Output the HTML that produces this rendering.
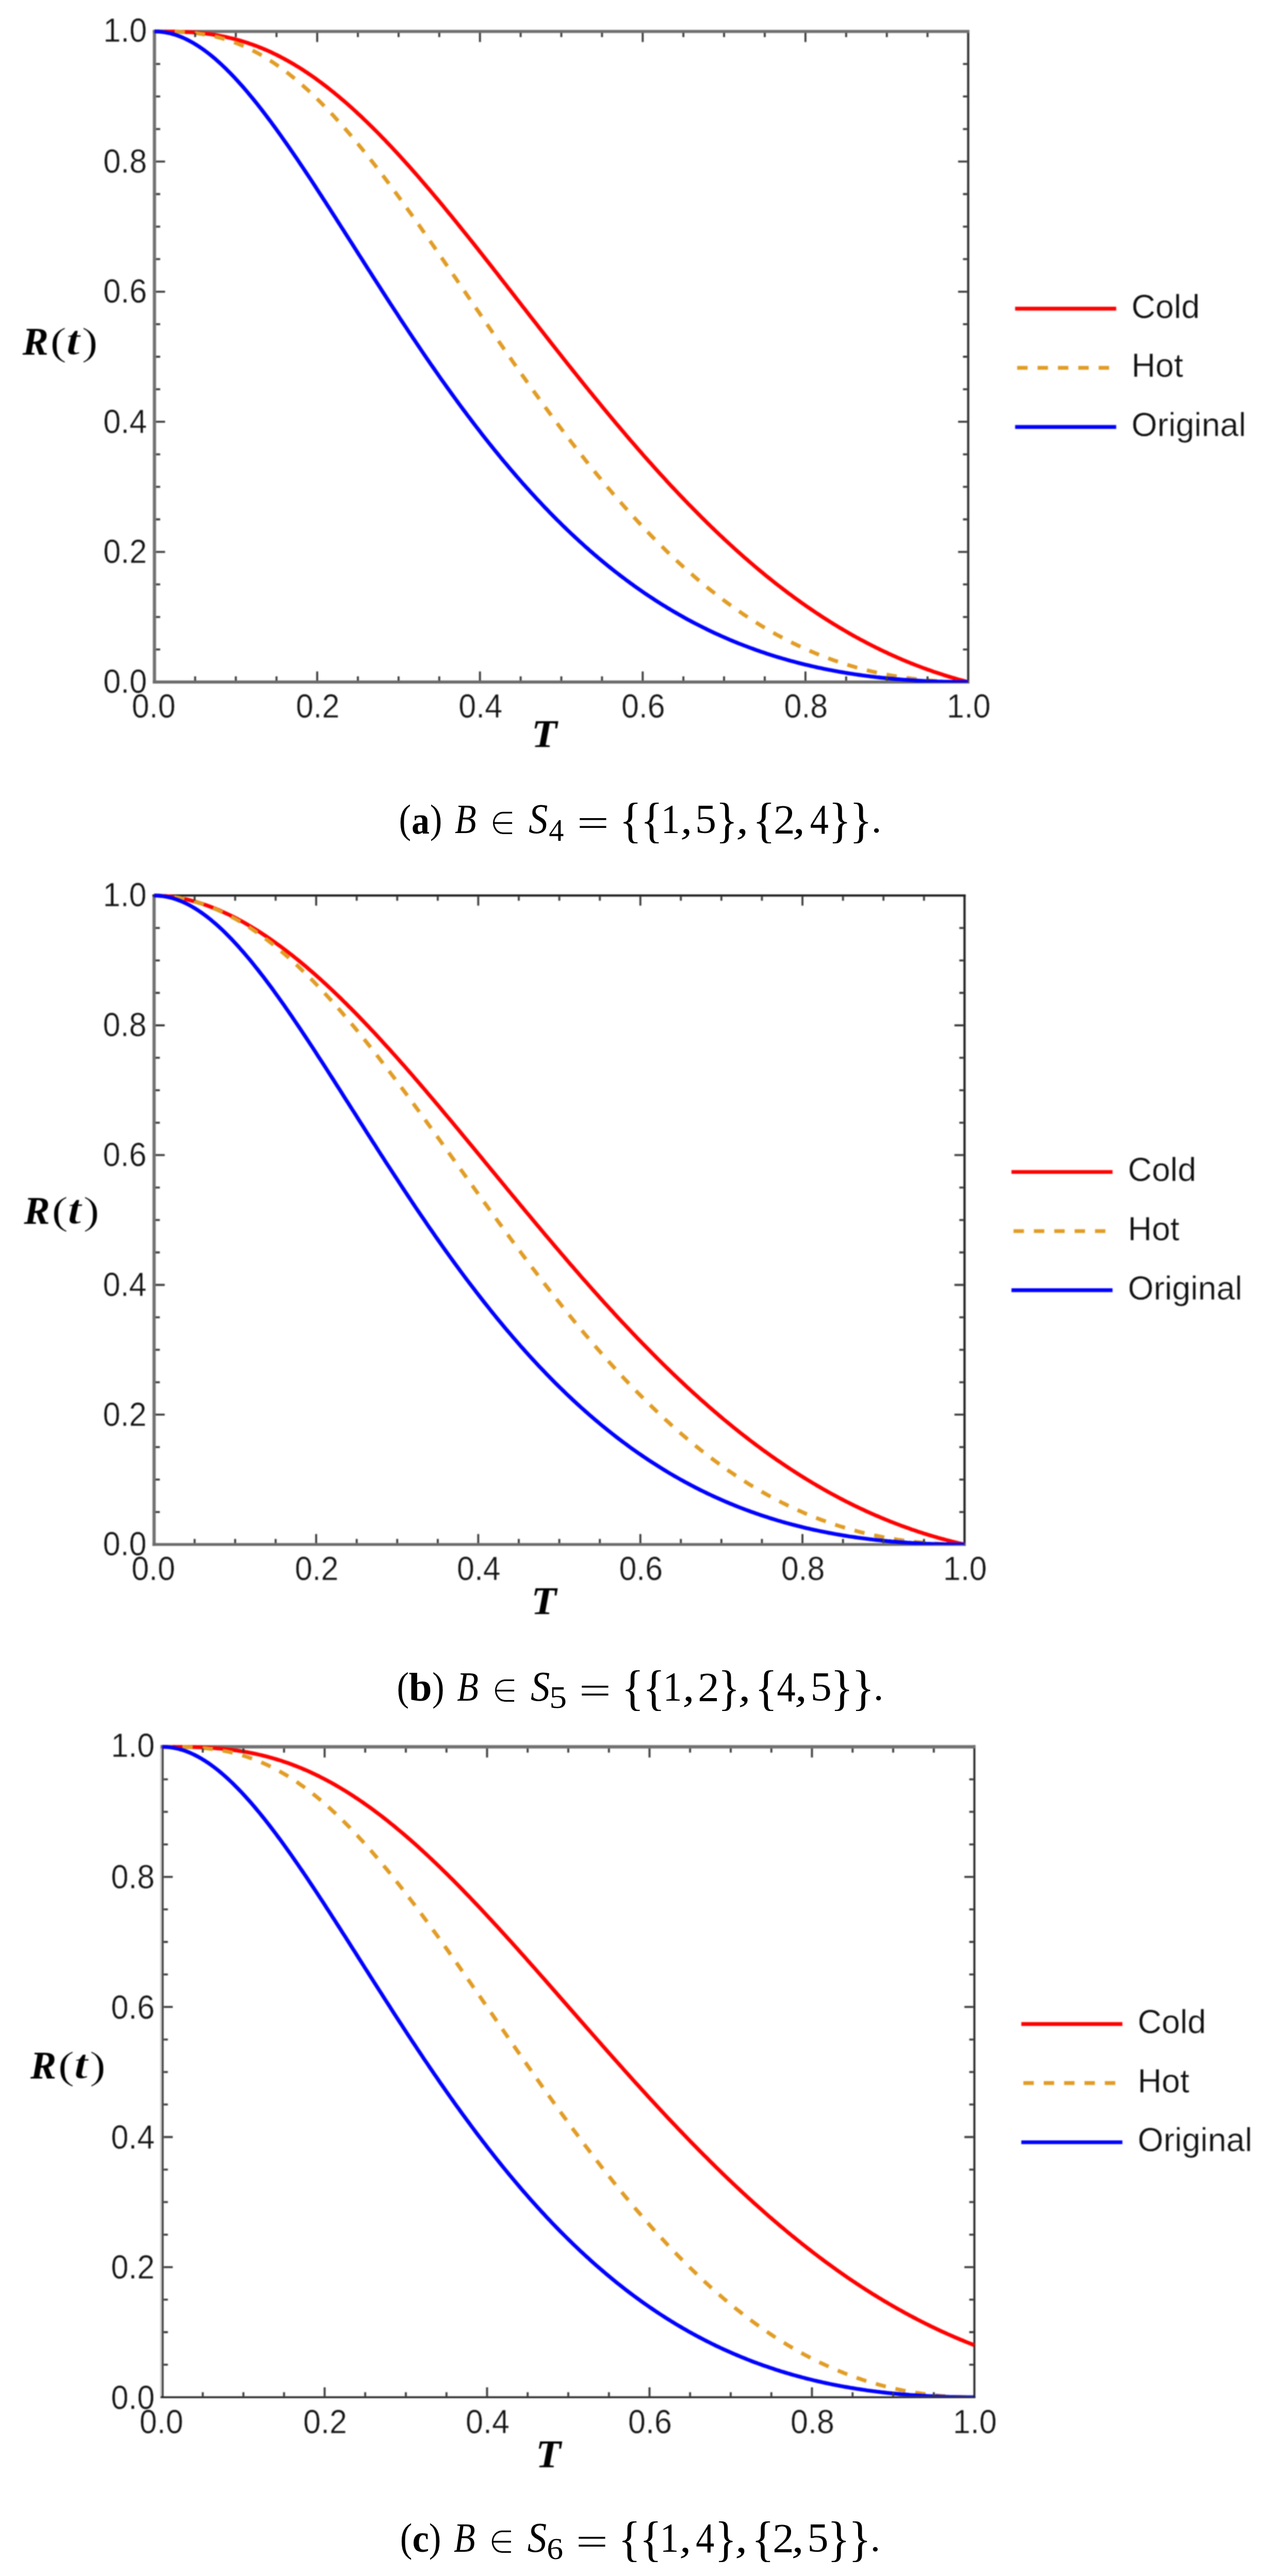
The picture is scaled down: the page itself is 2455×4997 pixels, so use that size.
<!DOCTYPE html>
<html lang="en"><head><meta charset="utf-8"><title>Reliability curves</title>
<style>
html,body{margin:0;padding:0;background:#fff;}
body{width:2455px;height:4997px;overflow:hidden;}
svg{display:block;position:absolute;left:0;top:0;}
text{white-space:pre;}
g.chart{filter:blur(1.1px);}
</style></head><body>
<svg width="2455" height="4997" viewBox="0 0 2455 4997">
<defs>
<clipPath id="clip-c1"><rect x="295.5" y="57.0" width="1583.0" height="1267.0"/></clipPath>
<clipPath id="clip-c2"><rect x="294.8" y="1733.2" width="1576.6" height="1263.6"/></clipPath>
<clipPath id="clip-c3"><rect x="310.5" y="3384.5" width="1580.0" height="1264.1"/></clipPath>
</defs>
<g class="chart" id="c1">
<line x1="299.5" y1="58.0" x2="299.5" y2="1325.9" stroke="#707070" stroke-width="6.2"/>
<line x1="1877.5" y1="58.0" x2="1877.5" y2="1325.9" stroke="#2e2e2e" stroke-width="4.2"/>
<line x1="296.4" y1="61.0" x2="1879.6" y2="61.0" stroke="#707070" stroke-width="6.0"/>
<line x1="296.4" y1="1323.0" x2="1879.6" y2="1323.0" stroke="#6c6c6c" stroke-width="5.8"/>
<g clip-path="url(#clip-c1)" fill="none" stroke-width="7.4" stroke-linejoin="round">
<path d="M299.5,61.0 L303.4,61.0 L307.4,61.0 L311.3,61.0 L315.3,61.0 L319.2,61.0 L323.2,61.1 L327.1,61.1 L331.1,61.2 L335.0,61.2 L338.9,61.3 L342.9,61.4 L346.8,61.5 L350.8,61.6 L354.7,61.8 L358.7,62.0 L362.6,62.2 L366.6,62.4 L370.5,62.6 L374.5,62.9 L378.4,63.2 L382.3,63.5 L386.3,63.9 L390.2,64.3 L394.2,64.7 L398.1,65.2 L402.1,65.7 L406.0,66.2 L410.0,66.7 L413.9,67.3 L417.9,68.0 L421.8,68.6 L425.7,69.3 L429.7,70.1 L433.6,70.9 L437.6,71.7 L441.5,72.6 L445.5,73.5 L449.4,74.4 L453.4,75.4 L457.3,76.4 L461.2,77.5 L465.2,78.6 L469.1,79.8 L473.1,81.0 L477.0,82.2 L481.0,83.5 L484.9,84.9 L488.9,86.2 L492.8,87.7 L496.8,89.1 L500.7,90.7 L504.6,92.2 L508.6,93.8 L512.5,95.5 L516.5,97.2 L520.4,98.9 L524.4,100.7 L528.3,102.6 L532.3,104.5 L536.2,106.4 L540.1,108.4 L544.1,110.4 L548.0,112.5 L552.0,114.6 L555.9,116.7 L559.9,119.0 L563.8,121.2 L567.8,123.5 L571.7,125.9 L575.7,128.3 L579.6,130.7 L583.5,133.2 L587.5,135.7 L591.4,138.3 L595.4,140.9 L599.3,143.6 L603.3,146.3 L607.2,149.0 L611.2,151.8 L615.1,154.7 L619.0,157.6 L623.0,160.5 L626.9,163.5 L630.9,166.5 L634.8,169.5 L638.8,172.6 L642.7,175.8 L646.7,178.9 L650.6,182.2 L654.5,185.4 L658.5,188.7 L662.4,192.1 L666.4,195.4 L670.3,198.8 L674.3,202.3 L678.2,205.8 L682.2,209.3 L686.1,212.9 L690.1,216.5 L694.0,220.2 L697.9,223.8 L701.9,227.5 L705.8,231.3 L709.8,235.1 L713.7,238.9 L717.7,242.8 L721.6,246.6 L725.6,250.6 L729.5,254.5 L733.5,258.5 L737.4,262.5 L741.3,266.6 L745.3,270.6 L749.2,274.8 L753.2,278.9 L757.1,283.1 L761.1,287.3 L765.0,291.5 L769.0,295.7 L772.9,300.0 L776.8,304.3 L780.8,308.7 L784.7,313.0 L788.7,317.4 L792.6,321.8 L796.6,326.3 L800.5,330.7 L804.5,335.2 L808.4,339.7 L812.4,344.2 L816.3,348.8 L820.2,353.4 L824.2,358.0 L828.1,362.6 L832.1,367.2 L836.0,371.9 L840.0,376.6 L843.9,381.3 L847.9,386.0 L851.8,390.7 L855.7,395.4 L859.7,400.2 L863.6,405.0 L867.6,409.8 L871.5,414.6 L875.5,419.4 L879.4,424.3 L883.4,429.1 L887.3,434.0 L891.2,438.9 L895.2,443.8 L899.1,448.7 L903.1,453.6 L907.0,458.5 L911.0,463.5 L914.9,468.4 L918.9,473.4 L922.8,478.4 L926.8,483.4 L930.7,488.4 L934.6,493.3 L938.6,498.4 L942.5,503.4 L946.5,508.4 L950.4,513.4 L954.4,518.4 L958.3,523.5 L962.3,528.5 L966.2,533.6 L970.1,538.6 L974.1,543.7 L978.0,548.7 L982.0,553.8 L985.9,558.9 L989.9,563.9 L993.8,569.0 L997.8,574.1 L1001.7,579.2 L1005.7,584.2 L1009.6,589.3 L1013.5,594.4 L1017.5,599.4 L1021.4,604.5 L1025.4,609.6 L1029.3,614.7 L1033.3,619.7 L1037.2,624.8 L1041.2,629.8 L1045.1,634.9 L1049.1,640.0 L1053.0,645.0 L1056.9,650.1 L1060.9,655.1 L1064.8,660.1 L1068.8,665.2 L1072.7,670.2 L1076.7,675.2 L1080.6,680.2 L1084.6,685.2 L1088.5,690.2 L1092.4,695.2 L1096.4,700.2 L1100.3,705.2 L1104.3,710.2 L1108.2,715.1 L1112.2,720.1 L1116.1,725.0 L1120.1,730.0 L1124.0,734.9 L1128.0,739.8 L1131.9,744.7 L1135.8,749.6 L1139.8,754.5 L1143.7,759.3 L1147.7,764.2 L1151.6,769.1 L1155.6,773.9 L1159.5,778.7 L1163.5,783.5 L1167.4,788.3 L1171.3,793.1 L1175.3,797.9 L1179.2,802.7 L1183.2,807.4 L1187.1,812.1 L1191.1,816.8 L1195.0,821.6 L1199.0,826.2 L1202.9,830.9 L1206.9,835.6 L1210.8,840.2 L1214.7,844.9 L1218.7,849.5 L1222.6,854.1 L1226.6,858.6 L1230.5,863.2 L1234.5,867.8 L1238.4,872.3 L1242.4,876.8 L1246.3,881.3 L1250.2,885.8 L1254.2,890.3 L1258.1,894.7 L1262.1,899.1 L1266.0,903.5 L1270.0,907.9 L1273.9,912.3 L1277.9,916.7 L1281.8,921.0 L1285.8,925.3 L1289.7,929.6 L1293.6,933.9 L1297.6,938.2 L1301.5,942.4 L1305.5,946.6 L1309.4,950.8 L1313.4,955.0 L1317.3,959.2 L1321.3,963.3 L1325.2,967.4 L1329.1,971.5 L1333.1,975.6 L1337.0,979.7 L1341.0,983.7 L1344.9,987.7 L1348.9,991.7 L1352.8,995.7 L1356.8,999.7 L1360.7,1003.6 L1364.7,1007.5 L1368.6,1011.4 L1372.5,1015.3 L1376.5,1019.1 L1380.4,1023.0 L1384.4,1026.8 L1388.3,1030.6 L1392.3,1034.3 L1396.2,1038.1 L1400.2,1041.8 L1404.1,1045.5 L1408.0,1049.1 L1412.0,1052.8 L1415.9,1056.4 L1419.9,1060.0 L1423.8,1063.6 L1427.8,1067.2 L1431.7,1070.7 L1435.7,1074.2 L1439.6,1077.7 L1443.5,1081.2 L1447.5,1084.6 L1451.4,1088.1 L1455.4,1091.5 L1459.3,1094.8 L1463.3,1098.2 L1467.2,1101.5 L1471.2,1104.8 L1475.1,1108.1 L1479.1,1111.4 L1483.0,1114.6 L1486.9,1117.8 L1490.9,1121.0 L1494.8,1124.2 L1498.8,1127.3 L1502.7,1130.5 L1506.7,1133.6 L1510.6,1136.6 L1514.6,1139.7 L1518.5,1142.7 L1522.5,1145.7 L1526.4,1148.7 L1530.3,1151.7 L1534.3,1154.6 L1538.2,1157.5 L1542.2,1160.4 L1546.1,1163.3 L1550.1,1166.1 L1554.0,1168.9 L1558.0,1171.7 L1561.9,1174.5 L1565.8,1177.2 L1569.8,1179.9 L1573.7,1182.6 L1577.7,1185.3 L1581.6,1188.0 L1585.6,1190.6 L1589.5,1193.2 L1593.5,1195.8 L1597.4,1198.3 L1601.4,1200.9 L1605.3,1203.4 L1609.2,1205.9 L1613.2,1208.3 L1617.1,1210.8 L1621.1,1213.2 L1625.0,1215.6 L1629.0,1218.0 L1632.9,1220.3 L1636.9,1222.6 L1640.8,1224.9 L1644.7,1227.2 L1648.7,1229.5 L1652.6,1231.7 L1656.6,1233.9 L1660.5,1236.1 L1664.5,1238.3 L1668.4,1240.4 L1672.4,1242.5 L1676.3,1244.6 L1680.2,1246.7 L1684.2,1248.8 L1688.1,1250.8 L1692.1,1252.8 L1696.0,1254.8 L1700.0,1256.8 L1703.9,1258.7 L1707.9,1260.6 L1711.8,1262.5 L1715.8,1264.4 L1719.7,1266.2 L1723.6,1268.1 L1727.6,1269.9 L1731.5,1271.7 L1735.5,1273.4 L1739.4,1275.2 L1743.4,1276.9 L1747.3,1278.6 L1751.3,1280.3 L1755.2,1281.9 L1759.2,1283.6 L1763.1,1285.2 L1767.0,1286.8 L1771.0,1288.3 L1774.9,1289.9 L1778.9,1291.4 L1782.8,1292.9 L1786.8,1294.4 L1790.7,1295.9 L1794.7,1297.3 L1798.6,1298.7 L1802.5,1300.1 L1806.5,1301.5 L1810.4,1302.9 L1814.4,1304.2 L1818.3,1305.5 L1822.3,1306.8 L1826.2,1308.1 L1830.2,1309.4 L1834.1,1310.6 L1838.0,1311.9 L1842.0,1313.1 L1845.9,1314.2 L1849.9,1315.4 L1853.8,1316.5 L1857.8,1317.7 L1861.7,1318.8 L1865.7,1319.9 L1869.6,1320.9 L1873.6,1322.0 L1877.5,1323.0" stroke="#ff0000"/>
<path d="M299.5,61.0 L303.4,61.0 L307.4,61.0 L311.3,61.0 L315.3,61.0 L319.2,61.1 L323.2,61.1 L327.1,61.2 L331.1,61.2 L335.0,61.3 L338.9,61.4 L342.9,61.6 L346.8,61.7 L350.8,61.9 L354.7,62.2 L358.7,62.4 L362.6,62.7 L366.6,63.0 L370.5,63.4 L374.5,63.8 L378.4,64.3 L382.3,64.7 L386.3,65.3 L390.2,65.8 L394.2,66.5 L398.1,67.1 L402.1,67.8 L406.0,68.6 L410.0,69.4 L413.9,70.3 L417.9,71.2 L421.8,72.2 L425.7,73.2 L429.7,74.3 L433.6,75.4 L437.6,76.6 L441.5,77.8 L445.5,79.1 L449.4,80.5 L453.4,81.9 L457.3,83.4 L461.2,84.9 L465.2,86.5 L469.1,88.2 L473.1,89.9 L477.0,91.7 L481.0,93.5 L484.9,95.4 L488.9,97.4 L492.8,99.4 L496.8,101.5 L500.7,103.6 L504.6,105.8 L508.6,108.1 L512.5,110.4 L516.5,112.8 L520.4,115.3 L524.4,117.8 L528.3,120.4 L532.3,123.0 L536.2,125.7 L540.1,128.5 L544.1,131.3 L548.0,134.2 L552.0,137.1 L555.9,140.1 L559.9,143.2 L563.8,146.3 L567.8,149.5 L571.7,152.7 L575.7,156.0 L579.6,159.3 L583.5,162.7 L587.5,166.2 L591.4,169.7 L595.4,173.3 L599.3,176.9 L603.3,180.6 L607.2,184.4 L611.2,188.1 L615.1,192.0 L619.0,195.9 L623.0,199.8 L626.9,203.8 L630.9,207.9 L634.8,212.0 L638.8,216.1 L642.7,220.3 L646.7,224.6 L650.6,228.9 L654.5,233.2 L658.5,237.6 L662.4,242.0 L666.4,246.5 L670.3,251.0 L674.3,255.6 L678.2,260.2 L682.2,264.8 L686.1,269.5 L690.1,274.2 L694.0,279.0 L697.9,283.8 L701.9,288.7 L705.8,293.5 L709.8,298.5 L713.7,303.4 L717.7,308.4 L721.6,313.4 L725.6,318.5 L729.5,323.6 L733.5,328.7 L737.4,333.8 L741.3,339.0 L745.3,344.2 L749.2,349.5 L753.2,354.7 L757.1,360.0 L761.1,365.3 L765.0,370.7 L769.0,376.1 L772.9,381.5 L776.8,386.9 L780.8,392.3 L784.7,397.8 L788.7,403.3 L792.6,408.8 L796.6,414.3 L800.5,419.9 L804.5,425.4 L808.4,431.0 L812.4,436.6 L816.3,442.2 L820.2,447.8 L824.2,453.5 L828.1,459.1 L832.1,464.8 L836.0,470.5 L840.0,476.2 L843.9,481.9 L847.9,487.6 L851.8,493.4 L855.7,499.1 L859.7,504.8 L863.6,510.6 L867.6,516.4 L871.5,522.1 L875.5,527.9 L879.4,533.7 L883.4,539.4 L887.3,545.2 L891.2,551.0 L895.2,556.8 L899.1,562.6 L903.1,568.4 L907.0,574.2 L911.0,580.0 L914.9,585.8 L918.9,591.6 L922.8,597.4 L926.8,603.2 L930.7,608.9 L934.6,614.7 L938.6,620.5 L942.5,626.3 L946.5,632.0 L950.4,637.8 L954.4,643.6 L958.3,649.3 L962.3,655.0 L966.2,660.8 L970.1,666.5 L974.1,672.2 L978.0,677.9 L982.0,683.6 L985.9,689.3 L989.9,695.0 L993.8,700.6 L997.8,706.3 L1001.7,711.9 L1005.7,717.5 L1009.6,723.2 L1013.5,728.8 L1017.5,734.3 L1021.4,739.9 L1025.4,745.5 L1029.3,751.0 L1033.3,756.5 L1037.2,762.0 L1041.2,767.5 L1045.1,773.0 L1049.1,778.4 L1053.0,783.9 L1056.9,789.3 L1060.9,794.7 L1064.8,800.1 L1068.8,805.4 L1072.7,810.8 L1076.7,816.1 L1080.6,821.4 L1084.6,826.7 L1088.5,831.9 L1092.4,837.2 L1096.4,842.4 L1100.3,847.6 L1104.3,852.7 L1108.2,857.9 L1112.2,863.0 L1116.1,868.1 L1120.1,873.2 L1124.0,878.3 L1128.0,883.3 L1131.9,888.3 L1135.8,893.3 L1139.8,898.2 L1143.7,903.2 L1147.7,908.1 L1151.6,912.9 L1155.6,917.8 L1159.5,922.6 L1163.5,927.4 L1167.4,932.2 L1171.3,936.9 L1175.3,941.7 L1179.2,946.4 L1183.2,951.0 L1187.1,955.7 L1191.1,960.3 L1195.0,964.9 L1199.0,969.4 L1202.9,973.9 L1206.9,978.4 L1210.8,982.9 L1214.7,987.3 L1218.7,991.8 L1222.6,996.1 L1226.6,1000.5 L1230.5,1004.8 L1234.5,1009.1 L1238.4,1013.4 L1242.4,1017.6 L1246.3,1021.8 L1250.2,1026.0 L1254.2,1030.2 L1258.1,1034.3 L1262.1,1038.4 L1266.0,1042.4 L1270.0,1046.4 L1273.9,1050.4 L1277.9,1054.4 L1281.8,1058.3 L1285.8,1062.2 L1289.7,1066.1 L1293.6,1070.0 L1297.6,1073.8 L1301.5,1077.5 L1305.5,1081.3 L1309.4,1085.0 L1313.4,1088.7 L1317.3,1092.4 L1321.3,1096.0 L1325.2,1099.6 L1329.1,1103.1 L1333.1,1106.7 L1337.0,1110.2 L1341.0,1113.6 L1344.9,1117.1 L1348.9,1120.5 L1352.8,1123.9 L1356.8,1127.2 L1360.7,1130.5 L1364.7,1133.8 L1368.6,1137.1 L1372.5,1140.3 L1376.5,1143.5 L1380.4,1146.6 L1384.4,1149.7 L1388.3,1152.8 L1392.3,1155.9 L1396.2,1158.9 L1400.2,1161.9 L1404.1,1164.9 L1408.0,1167.8 L1412.0,1170.8 L1415.9,1173.6 L1419.9,1176.5 L1423.8,1179.3 L1427.8,1182.1 L1431.7,1184.8 L1435.7,1187.5 L1439.6,1190.2 L1443.5,1192.9 L1447.5,1195.5 L1451.4,1198.1 L1455.4,1200.7 L1459.3,1203.2 L1463.3,1205.7 L1467.2,1208.2 L1471.2,1210.7 L1475.1,1213.1 L1479.1,1215.5 L1483.0,1217.8 L1486.9,1220.2 L1490.9,1222.5 L1494.8,1224.7 L1498.8,1227.0 L1502.7,1229.2 L1506.7,1231.4 L1510.6,1233.5 L1514.6,1235.6 L1518.5,1237.7 L1522.5,1239.8 L1526.4,1241.8 L1530.3,1243.8 L1534.3,1245.8 L1538.2,1247.8 L1542.2,1249.7 L1546.1,1251.6 L1550.1,1253.4 L1554.0,1255.3 L1558.0,1257.1 L1561.9,1258.9 L1565.8,1260.6 L1569.8,1262.3 L1573.7,1264.0 L1577.7,1265.7 L1581.6,1267.4 L1585.6,1269.0 L1589.5,1270.6 L1593.5,1272.1 L1597.4,1273.6 L1601.4,1275.2 L1605.3,1276.6 L1609.2,1278.1 L1613.2,1279.5 L1617.1,1280.9 L1621.1,1282.3 L1625.0,1283.6 L1629.0,1285.0 L1632.9,1286.3 L1636.9,1287.5 L1640.8,1288.8 L1644.7,1290.0 L1648.7,1291.2 L1652.6,1292.4 L1656.6,1293.5 L1660.5,1294.7 L1664.5,1295.8 L1668.4,1296.8 L1672.4,1297.9 L1676.3,1298.9 L1680.2,1299.9 L1684.2,1300.9 L1688.1,1301.8 L1692.1,1302.8 L1696.0,1303.7 L1700.0,1304.6 L1703.9,1305.4 L1707.9,1306.3 L1711.8,1307.1 L1715.8,1307.9 L1719.7,1308.6 L1723.6,1309.4 L1727.6,1310.1 L1731.5,1310.8 L1735.5,1311.5 L1739.4,1312.2 L1743.4,1312.8 L1747.3,1313.4 L1751.3,1314.0 L1755.2,1314.6 L1759.2,1315.2 L1763.1,1315.7 L1767.0,1316.2 L1771.0,1316.7 L1774.9,1317.2 L1778.9,1317.6 L1782.8,1318.1 L1786.8,1318.5 L1790.7,1318.9 L1794.7,1319.3 L1798.6,1319.6 L1802.5,1320.0 L1806.5,1320.3 L1810.4,1320.6 L1814.4,1320.9 L1818.3,1321.1 L1822.3,1321.4 L1826.2,1321.6 L1830.2,1321.8 L1834.1,1322.0 L1838.0,1322.2 L1842.0,1322.3 L1845.9,1322.5 L1849.9,1322.6 L1853.8,1322.7 L1857.8,1322.8 L1861.7,1322.9 L1865.7,1322.9 L1869.6,1323.0 L1873.6,1323.0 L1877.5,1323.0" stroke="#e19c24" stroke-dasharray="20 19.2"/>
<path d="M299.5,61.0 L303.4,61.1 L307.4,61.3 L311.3,61.6 L315.3,62.0 L319.2,62.6 L323.2,63.3 L327.1,64.1 L331.1,65.0 L335.0,66.1 L338.9,67.3 L342.9,68.6 L346.8,70.0 L350.8,71.5 L354.7,73.2 L358.7,75.0 L362.6,76.9 L366.6,78.9 L370.5,81.0 L374.5,83.2 L378.4,85.6 L382.3,88.0 L386.3,90.6 L390.2,93.3 L394.2,96.0 L398.1,98.9 L402.1,101.9 L406.0,104.9 L410.0,108.1 L413.9,111.4 L417.9,114.7 L421.8,118.2 L425.7,121.7 L429.7,125.4 L433.6,129.1 L437.6,132.9 L441.5,136.8 L445.5,140.8 L449.4,144.9 L453.4,149.0 L457.3,153.2 L461.2,157.5 L465.2,161.9 L469.1,166.3 L473.1,170.8 L477.0,175.4 L481.0,180.1 L484.9,184.8 L488.9,189.6 L492.8,194.4 L496.8,199.3 L500.7,204.3 L504.6,209.3 L508.6,214.4 L512.5,219.5 L516.5,224.7 L520.4,230.0 L524.4,235.2 L528.3,240.6 L532.3,246.0 L536.2,251.4 L540.1,256.9 L544.1,262.4 L548.0,268.0 L552.0,273.6 L555.9,279.2 L559.9,284.9 L563.8,290.6 L567.8,296.3 L571.7,302.1 L575.7,307.9 L579.6,313.7 L583.5,319.6 L587.5,325.5 L591.4,331.4 L595.4,337.4 L599.3,343.3 L603.3,349.3 L607.2,355.3 L611.2,361.4 L615.1,367.4 L619.0,373.5 L623.0,379.6 L626.9,385.7 L630.9,391.8 L634.8,397.9 L638.8,404.0 L642.7,410.2 L646.7,416.4 L650.6,422.5 L654.5,428.7 L658.5,434.9 L662.4,441.1 L666.4,447.3 L670.3,453.5 L674.3,459.7 L678.2,465.9 L682.2,472.1 L686.1,478.3 L690.1,484.5 L694.0,490.7 L697.9,496.9 L701.9,503.1 L705.8,509.3 L709.8,515.5 L713.7,521.7 L717.7,527.8 L721.6,534.0 L725.6,540.2 L729.5,546.3 L733.5,552.5 L737.4,558.6 L741.3,564.8 L745.3,570.9 L749.2,577.0 L753.2,583.1 L757.1,589.2 L761.1,595.2 L765.0,601.3 L769.0,607.3 L772.9,613.3 L776.8,619.4 L780.8,625.3 L784.7,631.3 L788.7,637.3 L792.6,643.2 L796.6,649.1 L800.5,655.1 L804.5,660.9 L808.4,666.8 L812.4,672.7 L816.3,678.5 L820.2,684.3 L824.2,690.1 L828.1,695.8 L832.1,701.6 L836.0,707.3 L840.0,713.0 L843.9,718.7 L847.9,724.3 L851.8,730.0 L855.7,735.6 L859.7,741.1 L863.6,746.7 L867.6,752.2 L871.5,757.7 L875.5,763.2 L879.4,768.7 L883.4,774.1 L887.3,779.5 L891.2,784.9 L895.2,790.2 L899.1,795.5 L903.1,800.8 L907.0,806.1 L911.0,811.3 L914.9,816.5 L918.9,821.7 L922.8,826.9 L926.8,832.0 L930.7,837.1 L934.6,842.2 L938.6,847.2 L942.5,852.2 L946.5,857.2 L950.4,862.2 L954.4,867.1 L958.3,872.0 L962.3,876.9 L966.2,881.7 L970.1,886.5 L974.1,891.3 L978.0,896.0 L982.0,900.7 L985.9,905.4 L989.9,910.1 L993.8,914.7 L997.8,919.3 L1001.7,923.9 L1005.7,928.4 L1009.6,932.9 L1013.5,937.4 L1017.5,941.8 L1021.4,946.2 L1025.4,950.6 L1029.3,955.0 L1033.3,959.3 L1037.2,963.6 L1041.2,967.9 L1045.1,972.1 L1049.1,976.3 L1053.0,980.5 L1056.9,984.6 L1060.9,988.7 L1064.8,992.8 L1068.8,996.8 L1072.7,1000.8 L1076.7,1004.8 L1080.6,1008.8 L1084.6,1012.7 L1088.5,1016.6 L1092.4,1020.5 L1096.4,1024.3 L1100.3,1028.1 L1104.3,1031.9 L1108.2,1035.6 L1112.2,1039.3 L1116.1,1043.0 L1120.1,1046.6 L1124.0,1050.3 L1128.0,1053.8 L1131.9,1057.4 L1135.8,1060.9 L1139.8,1064.4 L1143.7,1067.9 L1147.7,1071.4 L1151.6,1074.8 L1155.6,1078.1 L1159.5,1081.5 L1163.5,1084.8 L1167.4,1088.1 L1171.3,1091.4 L1175.3,1094.6 L1179.2,1097.8 L1183.2,1101.0 L1187.1,1104.2 L1191.1,1107.3 L1195.0,1110.4 L1199.0,1113.4 L1202.9,1116.5 L1206.9,1119.5 L1210.8,1122.4 L1214.7,1125.4 L1218.7,1128.3 L1222.6,1131.2 L1226.6,1134.1 L1230.5,1136.9 L1234.5,1139.7 L1238.4,1142.5 L1242.4,1145.3 L1246.3,1148.0 L1250.2,1150.7 L1254.2,1153.4 L1258.1,1156.0 L1262.1,1158.6 L1266.0,1161.2 L1270.0,1163.8 L1273.9,1166.3 L1277.9,1168.9 L1281.8,1171.3 L1285.8,1173.8 L1289.7,1176.2 L1293.6,1178.7 L1297.6,1181.0 L1301.5,1183.4 L1305.5,1185.7 L1309.4,1188.0 L1313.4,1190.3 L1317.3,1192.6 L1321.3,1194.8 L1325.2,1197.0 L1329.1,1199.2 L1333.1,1201.4 L1337.0,1203.5 L1341.0,1205.6 L1344.9,1207.7 L1348.9,1209.8 L1352.8,1211.8 L1356.8,1213.8 L1360.7,1215.8 L1364.7,1217.8 L1368.6,1219.7 L1372.5,1221.7 L1376.5,1223.6 L1380.4,1225.4 L1384.4,1227.3 L1388.3,1229.1 L1392.3,1230.9 L1396.2,1232.7 L1400.2,1234.5 L1404.1,1236.2 L1408.0,1237.9 L1412.0,1239.6 L1415.9,1241.3 L1419.9,1243.0 L1423.8,1244.6 L1427.8,1246.2 L1431.7,1247.8 L1435.7,1249.4 L1439.6,1250.9 L1443.5,1252.4 L1447.5,1253.9 L1451.4,1255.4 L1455.4,1256.9 L1459.3,1258.3 L1463.3,1259.8 L1467.2,1261.2 L1471.2,1262.6 L1475.1,1263.9 L1479.1,1265.3 L1483.0,1266.6 L1486.9,1267.9 L1490.9,1269.2 L1494.8,1270.5 L1498.8,1271.7 L1502.7,1273.0 L1506.7,1274.2 L1510.6,1275.4 L1514.6,1276.5 L1518.5,1277.7 L1522.5,1278.8 L1526.4,1280.0 L1530.3,1281.1 L1534.3,1282.2 L1538.2,1283.2 L1542.2,1284.3 L1546.1,1285.3 L1550.1,1286.3 L1554.0,1287.3 L1558.0,1288.3 L1561.9,1289.3 L1565.8,1290.2 L1569.8,1291.2 L1573.7,1292.1 L1577.7,1293.0 L1581.6,1293.9 L1585.6,1294.8 L1589.5,1295.6 L1593.5,1296.4 L1597.4,1297.3 L1601.4,1298.1 L1605.3,1298.9 L1609.2,1299.6 L1613.2,1300.4 L1617.1,1301.2 L1621.1,1301.9 L1625.0,1302.6 L1629.0,1303.3 L1632.9,1304.0 L1636.9,1304.7 L1640.8,1305.3 L1644.7,1306.0 L1648.7,1306.6 L1652.6,1307.2 L1656.6,1307.8 L1660.5,1308.4 L1664.5,1309.0 L1668.4,1309.5 L1672.4,1310.1 L1676.3,1310.6 L1680.2,1311.2 L1684.2,1311.7 L1688.1,1312.2 L1692.1,1312.6 L1696.0,1313.1 L1700.0,1313.6 L1703.9,1314.0 L1707.9,1314.5 L1711.8,1314.9 L1715.8,1315.3 L1719.7,1315.7 L1723.6,1316.1 L1727.6,1316.4 L1731.5,1316.8 L1735.5,1317.2 L1739.4,1317.5 L1743.4,1317.8 L1747.3,1318.1 L1751.3,1318.5 L1755.2,1318.7 L1759.2,1319.0 L1763.1,1319.3 L1767.0,1319.6 L1771.0,1319.8 L1774.9,1320.1 L1778.9,1320.3 L1782.8,1320.5 L1786.8,1320.7 L1790.7,1320.9 L1794.7,1321.1 L1798.6,1321.3 L1802.5,1321.5 L1806.5,1321.6 L1810.4,1321.8 L1814.4,1321.9 L1818.3,1322.1 L1822.3,1322.2 L1826.2,1322.3 L1830.2,1322.4 L1834.1,1322.5 L1838.0,1322.6 L1842.0,1322.7 L1845.9,1322.7 L1849.9,1322.8 L1853.8,1322.9 L1857.8,1322.9 L1861.7,1322.9 L1865.7,1323.0 L1869.6,1323.0 L1873.6,1323.0 L1877.5,1323.0" stroke="#0000ff"/>
</g>
<path d="M378.4,1320.1v-8M378.4,64.0v8M302.6,1259.9h8M1875.4,1259.9h-8M457.3,1320.1v-8M457.3,64.0v8M302.6,1196.8h8M1875.4,1196.8h-8M536.2,1320.1v-8M536.2,64.0v8M302.6,1133.7h8M1875.4,1133.7h-8M615.1,1320.1v-17.5M615.1,64.0v17.5M302.6,1070.6h17.5M1875.4,1070.6h-17.5M694.0,1320.1v-8M694.0,64.0v8M302.6,1007.5h8M1875.4,1007.5h-8M772.9,1320.1v-8M772.9,64.0v8M302.6,944.4h8M1875.4,944.4h-8M851.8,1320.1v-8M851.8,64.0v8M302.6,881.3h8M1875.4,881.3h-8M930.7,1320.1v-17.5M930.7,64.0v17.5M302.6,818.2h17.5M1875.4,818.2h-17.5M1009.6,1320.1v-8M1009.6,64.0v8M302.6,755.1h8M1875.4,755.1h-8M1088.5,1320.1v-8M1088.5,64.0v8M302.6,692.0h8M1875.4,692.0h-8M1167.4,1320.1v-8M1167.4,64.0v8M302.6,628.9h8M1875.4,628.9h-8M1246.3,1320.1v-17.5M1246.3,64.0v17.5M302.6,565.8h17.5M1875.4,565.8h-17.5M1325.2,1320.1v-8M1325.2,64.0v8M302.6,502.7h8M1875.4,502.7h-8M1404.1,1320.1v-8M1404.1,64.0v8M302.6,439.6h8M1875.4,439.6h-8M1483.0,1320.1v-8M1483.0,64.0v8M302.6,376.5h8M1875.4,376.5h-8M1561.9,1320.1v-17.5M1561.9,64.0v17.5M302.6,313.4h17.5M1875.4,313.4h-17.5M1640.8,1320.1v-8M1640.8,64.0v8M302.6,250.3h8M1875.4,250.3h-8M1719.7,1320.1v-8M1719.7,64.0v8M302.6,187.2h8M1875.4,187.2h-8M1798.6,1320.1v-8M1798.6,64.0v8M302.6,124.1h8M1875.4,124.1h-8" stroke="#3a3a3a" stroke-width="3.8" fill="none"/>
<g font-family="'Liberation Sans', Arial, sans-serif" font-size="61" fill="#141414" stroke="#fff" stroke-width="0.5">
<text transform="translate(285.0 1344.3) scale(1 1.06)" text-anchor="end">0.0</text>
<text transform="translate(298.0 1392.3) scale(1 1.06)" text-anchor="middle">0.0</text>
<text transform="translate(285.0 1091.9) scale(1 1.06)" text-anchor="end">0.2</text>
<text transform="translate(616.1 1392.3) scale(1 1.06)" text-anchor="middle">0.2</text>
<text transform="translate(285.0 839.5) scale(1 1.06)" text-anchor="end">0.4</text>
<text transform="translate(931.7 1392.3) scale(1 1.06)" text-anchor="middle">0.4</text>
<text transform="translate(285.0 587.1) scale(1 1.06)" text-anchor="end">0.6</text>
<text transform="translate(1247.3 1392.3) scale(1 1.06)" text-anchor="middle">0.6</text>
<text transform="translate(285.0 334.7) scale(1 1.06)" text-anchor="end">0.8</text>
<text transform="translate(1562.9 1392.3) scale(1 1.06)" text-anchor="middle">0.8</text>
<text transform="translate(285.0 80.8) scale(1 1.06)" text-anchor="end">1.0</text>
<text transform="translate(1878.5 1392.3) scale(1 1.06)" text-anchor="middle">1.0</text>
</g>
<text class="ylabel" fill="#000" font-family="'Liberation Serif', 'Times New Roman', serif"><tspan x="43.70" y="688.10" font-size="75.69" textLength="50.18" lengthAdjust="spacingAndGlyphs" font-weight="bold" font-style="italic">R</tspan><tspan x="97.14" y="688.27" font-size="76.33" textLength="32.26" lengthAdjust="spacingAndGlyphs" stroke="#fff" stroke-width="0.90">(</tspan><tspan x="127.96" y="687.78" font-size="81.75" textLength="27.27" lengthAdjust="spacingAndGlyphs" font-weight="bold" font-style="italic" stroke="#fff" stroke-width="1.50">t</tspan><tspan x="158.35" y="688.27" font-size="76.33" textLength="31.64" lengthAdjust="spacingAndGlyphs" stroke="#fff" stroke-width="0.90">)</tspan></text>
<g class="xlabel" fill="#000"><text transform="translate(1030.83 1448.60) scale(1.0110 0.9519)" font-family="'Liberation Serif', serif" font-weight="bold" font-style="italic" font-size="80">T</text></g>
<line x1="1968.5" y1="598.8" x2="2164.5" y2="598.8" stroke="#ff0000" stroke-width="7.4"/>
<text x="2194.0" y="616.7" font-family="'Liberation Sans', Arial, sans-serif" font-size="64.5" fill="#111" stroke="#fff" stroke-width="0.5">Cold</text>
<line x1="1972.5" y1="713.5" x2="2164.5" y2="713.5" stroke="#e19c24" stroke-width="7.4" stroke-dasharray="20.2 19.3"/>
<text x="2194.0" y="731.4" font-family="'Liberation Sans', Arial, sans-serif" font-size="64.5" fill="#111" stroke="#fff" stroke-width="0.5">Hot</text>
<line x1="1968.5" y1="828.2" x2="2164.5" y2="828.2" stroke="#0000ff" stroke-width="7.4"/>
<text x="2194.0" y="846.1" font-family="'Liberation Sans', Arial, sans-serif" font-size="64.5" fill="#111" stroke="#fff" stroke-width="0.5">Original</text>
</g>
<g class="chart" id="c2">
<line x1="298.8" y1="1735.1" x2="298.8" y2="2998.8" stroke="#707070" stroke-width="6.2"/>
<line x1="1870.4" y1="1735.1" x2="1870.4" y2="2998.8" stroke="#1e1e1e" stroke-width="4.2"/>
<line x1="295.7" y1="1737.2" x2="1872.5" y2="1737.2" stroke="#1e1e1e" stroke-width="4.2"/>
<line x1="295.7" y1="2996.0" x2="1872.5" y2="2996.0" stroke="#6a6a6a" stroke-width="5.5"/>
<g clip-path="url(#clip-c2)" fill="none" stroke-width="7.4" stroke-linejoin="round">
<path d="M298.8,1737.2 L302.7,1737.2 L306.7,1737.3 L310.6,1737.5 L314.5,1737.7 L318.4,1738.0 L322.4,1738.3 L326.3,1738.7 L330.2,1739.1 L334.2,1739.6 L338.1,1740.2 L342.0,1740.8 L345.9,1741.5 L349.9,1742.2 L353.8,1743.0 L357.7,1743.8 L361.7,1744.7 L365.6,1745.6 L369.5,1746.6 L373.5,1747.7 L377.4,1748.7 L381.3,1749.9 L385.2,1751.1 L389.2,1752.3 L393.1,1753.6 L397.0,1754.9 L401.0,1756.3 L404.9,1757.7 L408.8,1759.2 L412.7,1760.7 L416.7,1762.3 L420.6,1763.9 L424.5,1765.5 L428.5,1767.2 L432.4,1769.0 L436.3,1770.8 L440.2,1772.6 L444.2,1774.5 L448.1,1776.4 L452.0,1778.4 L456.0,1780.4 L459.9,1782.4 L463.8,1784.5 L467.7,1786.6 L471.7,1788.8 L475.6,1791.0 L479.5,1793.3 L483.5,1795.6 L487.4,1797.9 L491.3,1800.3 L495.2,1802.7 L499.2,1805.2 L503.1,1807.7 L507.0,1810.2 L511.0,1812.8 L514.9,1815.4 L518.8,1818.0 L522.8,1820.7 L526.7,1823.5 L530.6,1826.2 L534.5,1829.0 L538.5,1831.9 L542.4,1834.7 L546.3,1837.6 L550.3,1840.6 L554.2,1843.6 L558.1,1846.6 L562.0,1849.6 L566.0,1852.7 L569.9,1855.8 L573.8,1859.0 L577.8,1862.2 L581.7,1865.4 L585.6,1868.6 L589.5,1871.9 L593.5,1875.2 L597.4,1878.6 L601.3,1882.0 L605.3,1885.4 L609.2,1888.8 L613.1,1892.3 L617.0,1895.8 L621.0,1899.3 L624.9,1902.9 L628.8,1906.5 L632.8,1910.1 L636.7,1913.8 L640.6,1917.4 L644.6,1921.1 L648.5,1924.9 L652.4,1928.6 L656.3,1932.4 L660.3,1936.2 L664.2,1940.1 L668.1,1944.0 L672.1,1947.8 L676.0,1951.8 L679.9,1955.7 L683.8,1959.7 L687.8,1963.7 L691.7,1967.7 L695.6,1971.7 L699.6,1975.8 L703.5,1979.9 L707.4,1984.0 L711.3,1988.1 L715.3,1992.2 L719.2,1996.4 L723.1,2000.6 L727.1,2004.8 L731.0,2009.1 L734.9,2013.3 L738.8,2017.6 L742.8,2021.9 L746.7,2026.2 L750.6,2030.5 L754.6,2034.8 L758.5,2039.2 L762.4,2043.6 L766.4,2048.0 L770.3,2052.4 L774.2,2056.8 L778.1,2061.3 L782.1,2065.7 L786.0,2070.2 L789.9,2074.7 L793.9,2079.2 L797.8,2083.7 L801.7,2088.2 L805.6,2092.8 L809.6,2097.3 L813.5,2101.9 L817.4,2106.5 L821.4,2111.1 L825.3,2115.7 L829.2,2120.3 L833.1,2124.9 L837.1,2129.6 L841.0,2134.2 L844.9,2138.9 L848.9,2143.5 L852.8,2148.2 L856.7,2152.9 L860.6,2157.6 L864.6,2162.3 L868.5,2167.0 L872.4,2171.7 L876.4,2176.4 L880.3,2181.1 L884.2,2185.8 L888.2,2190.6 L892.1,2195.3 L896.0,2200.1 L899.9,2204.8 L903.9,2209.6 L907.8,2214.3 L911.7,2219.1 L915.7,2223.9 L919.6,2228.6 L923.5,2233.4 L927.4,2238.2 L931.4,2242.9 L935.3,2247.7 L939.2,2252.5 L943.2,2257.3 L947.1,2262.0 L951.0,2266.8 L954.9,2271.6 L958.9,2276.4 L962.8,2281.1 L966.7,2285.9 L970.7,2290.7 L974.6,2295.5 L978.5,2300.2 L982.4,2305.0 L986.4,2309.8 L990.3,2314.5 L994.2,2319.3 L998.2,2324.0 L1002.1,2328.8 L1006.0,2333.5 L1009.9,2338.3 L1013.9,2343.0 L1017.8,2347.8 L1021.7,2352.5 L1025.7,2357.2 L1029.6,2361.9 L1033.5,2366.6 L1037.5,2371.4 L1041.4,2376.1 L1045.3,2380.7 L1049.2,2385.4 L1053.2,2390.1 L1057.1,2394.8 L1061.0,2399.4 L1065.0,2404.1 L1068.9,2408.7 L1072.8,2413.4 L1076.7,2418.0 L1080.7,2422.6 L1084.6,2427.2 L1088.5,2431.8 L1092.5,2436.4 L1096.4,2441.0 L1100.3,2445.6 L1104.2,2450.2 L1108.2,2454.7 L1112.1,2459.2 L1116.0,2463.8 L1120.0,2468.3 L1123.9,2472.8 L1127.8,2477.3 L1131.7,2481.8 L1135.7,2486.2 L1139.6,2490.7 L1143.5,2495.1 L1147.5,2499.6 L1151.4,2504.0 L1155.3,2508.4 L1159.3,2512.8 L1163.2,2517.2 L1167.1,2521.5 L1171.0,2525.9 L1175.0,2530.2 L1178.9,2534.5 L1182.8,2538.9 L1186.8,2543.1 L1190.7,2547.4 L1194.6,2551.7 L1198.5,2555.9 L1202.5,2560.2 L1206.4,2564.4 L1210.3,2568.6 L1214.3,2572.8 L1218.2,2576.9 L1222.1,2581.1 L1226.0,2585.2 L1230.0,2589.4 L1233.9,2593.5 L1237.8,2597.6 L1241.8,2601.6 L1245.7,2605.7 L1249.6,2609.7 L1253.5,2613.7 L1257.5,2617.7 L1261.4,2621.7 L1265.3,2625.7 L1269.3,2629.6 L1273.2,2633.6 L1277.1,2637.5 L1281.1,2641.4 L1285.0,2645.3 L1288.9,2649.1 L1292.8,2653.0 L1296.8,2656.8 L1300.7,2660.6 L1304.6,2664.4 L1308.6,2668.2 L1312.5,2671.9 L1316.4,2675.6 L1320.3,2679.3 L1324.3,2683.0 L1328.2,2686.7 L1332.1,2690.4 L1336.1,2694.0 L1340.0,2697.6 L1343.9,2701.2 L1347.8,2704.8 L1351.8,2708.3 L1355.7,2711.9 L1359.6,2715.4 L1363.6,2718.9 L1367.5,2722.3 L1371.4,2725.8 L1375.3,2729.2 L1379.3,2732.6 L1383.2,2736.0 L1387.1,2739.4 L1391.1,2742.7 L1395.0,2746.1 L1398.9,2749.4 L1402.8,2752.7 L1406.8,2756.0 L1410.7,2759.2 L1414.6,2762.4 L1418.6,2765.6 L1422.5,2768.8 L1426.4,2772.0 L1430.4,2775.1 L1434.3,2778.3 L1438.2,2781.4 L1442.1,2784.4 L1446.1,2787.5 L1450.0,2790.5 L1453.9,2793.6 L1457.9,2796.6 L1461.8,2799.5 L1465.7,2802.5 L1469.6,2805.4 L1473.6,2808.3 L1477.5,2811.2 L1481.4,2814.1 L1485.4,2816.9 L1489.3,2819.8 L1493.2,2822.6 L1497.1,2825.4 L1501.1,2828.1 L1505.0,2830.9 L1508.9,2833.6 L1512.9,2836.3 L1516.8,2839.0 L1520.7,2841.6 L1524.6,2844.3 L1528.6,2846.9 L1532.5,2849.5 L1536.4,2852.0 L1540.4,2854.6 L1544.3,2857.1 L1548.2,2859.6 L1552.2,2862.1 L1556.1,2864.6 L1560.0,2867.0 L1563.9,2869.4 L1567.9,2871.8 L1571.8,2874.2 L1575.7,2876.6 L1579.7,2878.9 L1583.6,2881.2 L1587.5,2883.5 L1591.4,2885.8 L1595.4,2888.1 L1599.3,2890.3 L1603.2,2892.5 L1607.2,2894.7 L1611.1,2896.9 L1615.0,2899.0 L1618.9,2901.1 L1622.9,2903.2 L1626.8,2905.3 L1630.7,2907.4 L1634.7,2909.4 L1638.6,2911.5 L1642.5,2913.5 L1646.4,2915.4 L1650.4,2917.4 L1654.3,2919.3 L1658.2,2921.3 L1662.2,2923.2 L1666.1,2925.0 L1670.0,2926.9 L1674.0,2928.7 L1677.9,2930.6 L1681.8,2932.4 L1685.7,2934.1 L1689.7,2935.9 L1693.6,2937.6 L1697.5,2939.3 L1701.5,2941.0 L1705.4,2942.7 L1709.3,2944.4 L1713.2,2946.0 L1717.2,2947.6 L1721.1,2949.2 L1725.0,2950.8 L1729.0,2952.4 L1732.9,2953.9 L1736.8,2955.4 L1740.7,2956.9 L1744.7,2958.4 L1748.6,2959.9 L1752.5,2961.3 L1756.5,2962.7 L1760.4,2964.1 L1764.3,2965.5 L1768.2,2966.9 L1772.2,2968.2 L1776.1,2969.6 L1780.0,2970.9 L1784.0,2972.2 L1787.9,2973.4 L1791.8,2974.7 L1795.7,2975.9 L1799.7,2977.2 L1803.6,2978.4 L1807.5,2979.5 L1811.5,2980.7 L1815.4,2981.8 L1819.3,2983.0 L1823.3,2984.1 L1827.2,2985.2 L1831.1,2986.2 L1835.0,2987.3 L1839.0,2988.3 L1842.9,2989.4 L1846.8,2990.4 L1850.8,2991.3 L1854.7,2992.3 L1858.6,2993.3 L1862.5,2994.2 L1866.5,2995.1 L1870.4,2996.0" stroke="#ff0000"/>
<path d="M298.8,1737.2 L302.7,1737.2 L306.7,1737.3 L310.6,1737.5 L314.5,1737.7 L318.4,1738.0 L322.4,1738.3 L326.3,1738.7 L330.2,1739.1 L334.2,1739.7 L338.1,1740.2 L342.0,1740.8 L345.9,1741.5 L349.9,1742.2 L353.8,1743.0 L357.7,1743.9 L361.7,1744.8 L365.6,1745.7 L369.5,1746.7 L373.5,1747.8 L377.4,1748.9 L381.3,1750.1 L385.2,1751.3 L389.2,1752.6 L393.1,1753.9 L397.0,1755.3 L401.0,1756.7 L404.9,1758.2 L408.8,1759.7 L412.7,1761.3 L416.7,1763.0 L420.6,1764.7 L424.5,1766.4 L428.5,1768.2 L432.4,1770.1 L436.3,1772.0 L440.2,1774.0 L444.2,1776.0 L448.1,1778.0 L452.0,1780.2 L456.0,1782.3 L459.9,1784.5 L463.8,1786.8 L467.7,1789.1 L471.7,1791.5 L475.6,1793.9 L479.5,1796.4 L483.5,1798.9 L487.4,1801.5 L491.3,1804.1 L495.2,1806.8 L499.2,1809.5 L503.1,1812.3 L507.0,1815.2 L511.0,1818.0 L514.9,1821.0 L518.8,1823.9 L522.8,1827.0 L526.7,1830.0 L530.6,1833.2 L534.5,1836.3 L538.5,1839.5 L542.4,1842.8 L546.3,1846.1 L550.3,1849.5 L554.2,1852.9 L558.1,1856.3 L562.0,1859.8 L566.0,1863.4 L569.9,1867.0 L573.8,1870.6 L577.8,1874.3 L581.7,1878.0 L585.6,1881.8 L589.5,1885.6 L593.5,1889.4 L597.4,1893.3 L601.3,1897.3 L605.3,1901.2 L609.2,1905.2 L613.1,1909.3 L617.0,1913.4 L621.0,1917.5 L624.9,1921.7 L628.8,1925.9 L632.8,1930.2 L636.7,1934.5 L640.6,1938.8 L644.6,1943.2 L648.5,1947.6 L652.4,1952.0 L656.3,1956.5 L660.3,1961.0 L664.2,1965.5 L668.1,1970.1 L672.1,1974.7 L676.0,1979.3 L679.9,1984.0 L683.8,1988.7 L687.8,1993.4 L691.7,1998.2 L695.6,2002.9 L699.6,2007.8 L703.5,2012.6 L707.4,2017.5 L711.3,2022.4 L715.3,2027.3 L719.2,2032.3 L723.1,2037.2 L727.1,2042.2 L731.0,2047.3 L734.9,2052.3 L738.8,2057.4 L742.8,2062.5 L746.7,2067.6 L750.6,2072.7 L754.6,2077.9 L758.5,2083.1 L762.4,2088.3 L766.4,2093.5 L770.3,2098.7 L774.2,2104.0 L778.1,2109.2 L782.1,2114.5 L786.0,2119.8 L789.9,2125.1 L793.9,2130.5 L797.8,2135.8 L801.7,2141.1 L805.6,2146.5 L809.6,2151.9 L813.5,2157.3 L817.4,2162.7 L821.4,2168.1 L825.3,2173.5 L829.2,2179.0 L833.1,2184.4 L837.1,2189.8 L841.0,2195.3 L844.9,2200.8 L848.9,2206.2 L852.8,2211.7 L856.7,2217.2 L860.6,2222.7 L864.6,2228.2 L868.5,2233.7 L872.4,2239.2 L876.4,2244.7 L880.3,2250.2 L884.2,2255.7 L888.2,2261.2 L892.1,2266.7 L896.0,2272.2 L899.9,2277.7 L903.9,2283.2 L907.8,2288.7 L911.7,2294.2 L915.7,2299.6 L919.6,2305.1 L923.5,2310.6 L927.4,2316.1 L931.4,2321.6 L935.3,2327.1 L939.2,2332.5 L943.2,2338.0 L947.1,2343.4 L951.0,2348.9 L954.9,2354.3 L958.9,2359.8 L962.8,2365.2 L966.7,2370.6 L970.7,2376.0 L974.6,2381.4 L978.5,2386.8 L982.4,2392.1 L986.4,2397.5 L990.3,2402.9 L994.2,2408.2 L998.2,2413.5 L1002.1,2418.8 L1006.0,2424.1 L1009.9,2429.4 L1013.9,2434.7 L1017.8,2440.0 L1021.7,2445.2 L1025.7,2450.4 L1029.6,2455.7 L1033.5,2460.9 L1037.5,2466.0 L1041.4,2471.2 L1045.3,2476.4 L1049.2,2481.5 L1053.2,2486.6 L1057.1,2491.7 L1061.0,2496.8 L1065.0,2501.9 L1068.9,2506.9 L1072.8,2511.9 L1076.7,2516.9 L1080.7,2521.9 L1084.6,2526.9 L1088.5,2531.8 L1092.5,2536.8 L1096.4,2541.7 L1100.3,2546.6 L1104.2,2551.4 L1108.2,2556.3 L1112.1,2561.1 L1116.0,2565.9 L1120.0,2570.7 L1123.9,2575.4 L1127.8,2580.2 L1131.7,2584.9 L1135.7,2589.6 L1139.6,2594.2 L1143.5,2598.9 L1147.5,2603.5 L1151.4,2608.1 L1155.3,2612.6 L1159.3,2617.2 L1163.2,2621.7 L1167.1,2626.2 L1171.0,2630.7 L1175.0,2635.1 L1178.9,2639.5 L1182.8,2643.9 L1186.8,2648.3 L1190.7,2652.6 L1194.6,2656.9 L1198.5,2661.2 L1202.5,2665.5 L1206.4,2669.7 L1210.3,2673.9 L1214.3,2678.1 L1218.2,2682.3 L1222.1,2686.4 L1226.0,2690.5 L1230.0,2694.6 L1233.9,2698.6 L1237.8,2702.7 L1241.8,2706.7 L1245.7,2710.6 L1249.6,2714.6 L1253.5,2718.5 L1257.5,2722.4 L1261.4,2726.2 L1265.3,2730.0 L1269.3,2733.8 L1273.2,2737.6 L1277.1,2741.3 L1281.1,2745.1 L1285.0,2748.7 L1288.9,2752.4 L1292.8,2756.0 L1296.8,2759.6 L1300.7,2763.2 L1304.6,2766.7 L1308.6,2770.2 L1312.5,2773.7 L1316.4,2777.2 L1320.3,2780.6 L1324.3,2784.0 L1328.2,2787.4 L1332.1,2790.7 L1336.1,2794.0 L1340.0,2797.3 L1343.9,2800.5 L1347.8,2803.8 L1351.8,2807.0 L1355.7,2810.1 L1359.6,2813.3 L1363.6,2816.4 L1367.5,2819.4 L1371.4,2822.5 L1375.3,2825.5 L1379.3,2828.5 L1383.2,2831.5 L1387.1,2834.4 L1391.1,2837.3 L1395.0,2840.2 L1398.9,2843.0 L1402.8,2845.8 L1406.8,2848.6 L1410.7,2851.4 L1414.6,2854.1 L1418.6,2856.8 L1422.5,2859.4 L1426.4,2862.1 L1430.4,2864.7 L1434.3,2867.3 L1438.2,2869.8 L1442.1,2872.4 L1446.1,2874.9 L1450.0,2877.3 L1453.9,2879.8 L1457.9,2882.2 L1461.8,2884.6 L1465.7,2886.9 L1469.6,2889.2 L1473.6,2891.5 L1477.5,2893.8 L1481.4,2896.0 L1485.4,2898.3 L1489.3,2900.4 L1493.2,2902.6 L1497.1,2904.7 L1501.1,2906.8 L1505.0,2908.9 L1508.9,2911.0 L1512.9,2913.0 L1516.8,2915.0 L1520.7,2916.9 L1524.6,2918.9 L1528.6,2920.8 L1532.5,2922.7 L1536.4,2924.5 L1540.4,2926.3 L1544.3,2928.1 L1548.2,2929.9 L1552.2,2931.7 L1556.1,2933.4 L1560.0,2935.1 L1563.9,2936.8 L1567.9,2938.4 L1571.8,2940.0 L1575.7,2941.6 L1579.7,2943.2 L1583.6,2944.7 L1587.5,2946.2 L1591.4,2947.7 L1595.4,2949.2 L1599.3,2950.6 L1603.2,2952.0 L1607.2,2953.4 L1611.1,2954.8 L1615.0,2956.1 L1618.9,2957.4 L1622.9,2958.7 L1626.8,2960.0 L1630.7,2961.2 L1634.7,2962.4 L1638.6,2963.6 L1642.5,2964.8 L1646.4,2965.9 L1650.4,2967.1 L1654.3,2968.2 L1658.2,2969.2 L1662.2,2970.3 L1666.1,2971.3 L1670.0,2972.3 L1674.0,2973.3 L1677.9,2974.2 L1681.8,2975.2 L1685.7,2976.1 L1689.7,2977.0 L1693.6,2977.8 L1697.5,2978.7 L1701.5,2979.5 L1705.4,2980.3 L1709.3,2981.1 L1713.2,2981.8 L1717.2,2982.6 L1721.1,2983.3 L1725.0,2984.0 L1729.0,2984.7 L1732.9,2985.3 L1736.8,2985.9 L1740.7,2986.6 L1744.7,2987.1 L1748.6,2987.7 L1752.5,2988.3 L1756.5,2988.8 L1760.4,2989.3 L1764.3,2989.8 L1768.2,2990.3 L1772.2,2990.7 L1776.1,2991.1 L1780.0,2991.5 L1784.0,2991.9 L1787.9,2992.3 L1791.8,2992.7 L1795.7,2993.0 L1799.7,2993.3 L1803.6,2993.6 L1807.5,2993.9 L1811.5,2994.1 L1815.4,2994.4 L1819.3,2994.6 L1823.3,2994.8 L1827.2,2995.0 L1831.1,2995.2 L1835.0,2995.3 L1839.0,2995.5 L1842.9,2995.6 L1846.8,2995.7 L1850.8,2995.8 L1854.7,2995.9 L1858.6,2995.9 L1862.5,2996.0 L1866.5,2996.0 L1870.4,2996.0" stroke="#e19c24" stroke-dasharray="20 19.2"/>
<path d="M298.8,1737.2 L302.7,1737.3 L306.7,1737.5 L310.6,1737.8 L314.5,1738.2 L318.4,1738.8 L322.4,1739.5 L326.3,1740.3 L330.2,1741.2 L334.2,1742.3 L338.1,1743.4 L342.0,1744.7 L345.9,1746.2 L349.9,1747.7 L353.8,1749.4 L357.7,1751.1 L361.7,1753.0 L365.6,1755.0 L369.5,1757.1 L373.5,1759.4 L377.4,1761.7 L381.3,1764.2 L385.2,1766.7 L389.2,1769.4 L393.1,1772.1 L397.0,1775.0 L401.0,1778.0 L404.9,1781.0 L408.8,1784.2 L412.7,1787.5 L416.7,1790.8 L420.6,1794.3 L424.5,1797.8 L428.5,1801.4 L432.4,1805.1 L436.3,1808.9 L440.2,1812.8 L444.2,1816.8 L448.1,1820.8 L452.0,1825.0 L456.0,1829.2 L459.9,1833.5 L463.8,1837.8 L467.7,1842.3 L471.7,1846.8 L475.6,1851.3 L479.5,1856.0 L483.5,1860.7 L487.4,1865.4 L491.3,1870.3 L495.2,1875.2 L499.2,1880.1 L503.1,1885.1 L507.0,1890.2 L511.0,1895.3 L514.9,1900.5 L518.8,1905.7 L522.8,1911.0 L526.7,1916.3 L530.6,1921.7 L534.5,1927.1 L538.5,1932.6 L542.4,1938.1 L546.3,1943.6 L550.3,1949.2 L554.2,1954.8 L558.1,1960.5 L562.0,1966.2 L566.0,1971.9 L569.9,1977.7 L573.8,1983.5 L577.8,1989.3 L581.7,1995.1 L585.6,2001.0 L589.5,2006.9 L593.5,2012.9 L597.4,2018.8 L601.3,2024.8 L605.3,2030.8 L609.2,2036.8 L613.1,2042.8 L617.0,2048.9 L621.0,2055.0 L624.9,2061.0 L628.8,2067.1 L632.8,2073.2 L636.7,2079.4 L640.6,2085.5 L644.6,2091.6 L648.5,2097.8 L652.4,2104.0 L656.3,2110.1 L660.3,2116.3 L664.2,2122.5 L668.1,2128.7 L672.1,2134.9 L676.0,2141.0 L679.9,2147.2 L683.8,2153.4 L687.8,2159.6 L691.7,2165.8 L695.6,2172.0 L699.6,2178.2 L703.5,2184.3 L707.4,2190.5 L711.3,2196.7 L715.3,2202.9 L719.2,2209.0 L723.1,2215.2 L727.1,2221.3 L731.0,2227.4 L734.9,2233.6 L738.8,2239.7 L742.8,2245.8 L746.7,2251.9 L750.6,2257.9 L754.6,2264.0 L758.5,2270.1 L762.4,2276.1 L766.4,2282.1 L770.3,2288.1 L774.2,2294.1 L778.1,2300.1 L782.1,2306.1 L786.0,2312.0 L789.9,2317.9 L793.9,2323.9 L797.8,2329.7 L801.7,2335.6 L805.6,2341.5 L809.6,2347.3 L813.5,2353.1 L817.4,2358.9 L821.4,2364.7 L825.3,2370.4 L829.2,2376.2 L833.1,2381.9 L837.1,2387.5 L841.0,2393.2 L844.9,2398.8 L848.9,2404.5 L852.8,2410.0 L856.7,2415.6 L860.6,2421.2 L864.6,2426.7 L868.5,2432.2 L872.4,2437.6 L876.4,2443.1 L880.3,2448.5 L884.2,2453.9 L888.2,2459.2 L892.1,2464.6 L896.0,2469.9 L899.9,2475.1 L903.9,2480.4 L907.8,2485.6 L911.7,2490.8 L915.7,2496.0 L919.6,2501.1 L923.5,2506.3 L927.4,2511.3 L931.4,2516.4 L935.3,2521.4 L939.2,2526.4 L943.2,2531.4 L947.1,2536.3 L951.0,2541.3 L954.9,2546.1 L958.9,2551.0 L962.8,2555.8 L966.7,2560.6 L970.7,2565.4 L974.6,2570.1 L978.5,2574.8 L982.4,2579.5 L986.4,2584.1 L990.3,2588.7 L994.2,2593.3 L998.2,2597.9 L1002.1,2602.4 L1006.0,2606.9 L1009.9,2611.4 L1013.9,2615.8 L1017.8,2620.2 L1021.7,2624.6 L1025.7,2628.9 L1029.6,2633.2 L1033.5,2637.5 L1037.5,2641.8 L1041.4,2646.0 L1045.3,2650.2 L1049.2,2654.3 L1053.2,2658.4 L1057.1,2662.5 L1061.0,2666.6 L1065.0,2670.6 L1068.9,2674.7 L1072.8,2678.6 L1076.7,2682.6 L1080.7,2686.5 L1084.6,2690.4 L1088.5,2694.2 L1092.5,2698.0 L1096.4,2701.8 L1100.3,2705.6 L1104.2,2709.3 L1108.2,2713.0 L1112.1,2716.7 L1116.0,2720.3 L1120.0,2724.0 L1123.9,2727.5 L1127.8,2731.1 L1131.7,2734.6 L1135.7,2738.1 L1139.6,2741.6 L1143.5,2745.0 L1147.5,2748.4 L1151.4,2751.8 L1155.3,2755.1 L1159.3,2758.4 L1163.2,2761.7 L1167.1,2765.0 L1171.0,2768.2 L1175.0,2771.4 L1178.9,2774.6 L1182.8,2777.7 L1186.8,2780.8 L1190.7,2783.9 L1194.6,2787.0 L1198.5,2790.0 L1202.5,2793.0 L1206.4,2796.0 L1210.3,2798.9 L1214.3,2801.8 L1218.2,2804.7 L1222.1,2807.6 L1226.0,2810.4 L1230.0,2813.2 L1233.9,2816.0 L1237.8,2818.7 L1241.8,2821.4 L1245.7,2824.1 L1249.6,2826.8 L1253.5,2829.4 L1257.5,2832.1 L1261.4,2834.6 L1265.3,2837.2 L1269.3,2839.7 L1273.2,2842.2 L1277.1,2844.7 L1281.1,2847.2 L1285.0,2849.6 L1288.9,2852.0 L1292.8,2854.4 L1296.8,2856.8 L1300.7,2859.1 L1304.6,2861.4 L1308.6,2863.7 L1312.5,2865.9 L1316.4,2868.1 L1320.3,2870.4 L1324.3,2872.5 L1328.2,2874.7 L1332.1,2876.8 L1336.1,2878.9 L1340.0,2881.0 L1343.9,2883.1 L1347.8,2885.1 L1351.8,2887.1 L1355.7,2889.1 L1359.6,2891.1 L1363.6,2893.0 L1367.5,2894.9 L1371.4,2896.8 L1375.3,2898.7 L1379.3,2900.5 L1383.2,2902.4 L1387.1,2904.2 L1391.1,2905.9 L1395.0,2907.7 L1398.9,2909.4 L1402.8,2911.1 L1406.8,2912.8 L1410.7,2914.5 L1414.6,2916.2 L1418.6,2917.8 L1422.5,2919.4 L1426.4,2921.0 L1430.4,2922.6 L1434.3,2924.1 L1438.2,2925.6 L1442.1,2927.1 L1446.1,2928.6 L1450.0,2930.1 L1453.9,2931.5 L1457.9,2932.9 L1461.8,2934.3 L1465.7,2935.7 L1469.6,2937.1 L1473.6,2938.4 L1477.5,2939.8 L1481.4,2941.1 L1485.4,2942.3 L1489.3,2943.6 L1493.2,2944.9 L1497.1,2946.1 L1501.1,2947.3 L1505.0,2948.5 L1508.9,2949.7 L1512.9,2950.8 L1516.8,2952.0 L1520.7,2953.1 L1524.6,2954.2 L1528.6,2955.3 L1532.5,2956.3 L1536.4,2957.4 L1540.4,2958.4 L1544.3,2959.4 L1548.2,2960.4 L1552.2,2961.4 L1556.1,2962.4 L1560.0,2963.3 L1563.9,2964.3 L1567.9,2965.2 L1571.8,2966.1 L1575.7,2967.0 L1579.7,2967.8 L1583.6,2968.7 L1587.5,2969.5 L1591.4,2970.3 L1595.4,2971.1 L1599.3,2971.9 L1603.2,2972.7 L1607.2,2973.5 L1611.1,2974.2 L1615.0,2974.9 L1618.9,2975.7 L1622.9,2976.4 L1626.8,2977.0 L1630.7,2977.7 L1634.7,2978.4 L1638.6,2979.0 L1642.5,2979.6 L1646.4,2980.3 L1650.4,2980.9 L1654.3,2981.4 L1658.2,2982.0 L1662.2,2982.6 L1666.1,2983.1 L1670.0,2983.7 L1674.0,2984.2 L1677.9,2984.7 L1681.8,2985.2 L1685.7,2985.7 L1689.7,2986.1 L1693.6,2986.6 L1697.5,2987.0 L1701.5,2987.5 L1705.4,2987.9 L1709.3,2988.3 L1713.2,2988.7 L1717.2,2989.1 L1721.1,2989.5 L1725.0,2989.8 L1729.0,2990.2 L1732.9,2990.5 L1736.8,2990.8 L1740.7,2991.2 L1744.7,2991.5 L1748.6,2991.8 L1752.5,2992.0 L1756.5,2992.3 L1760.4,2992.6 L1764.3,2992.8 L1768.2,2993.1 L1772.2,2993.3 L1776.1,2993.5 L1780.0,2993.7 L1784.0,2993.9 L1787.9,2994.1 L1791.8,2994.3 L1795.7,2994.5 L1799.7,2994.6 L1803.6,2994.8 L1807.5,2994.9 L1811.5,2995.1 L1815.4,2995.2 L1819.3,2995.3 L1823.3,2995.4 L1827.2,2995.5 L1831.1,2995.6 L1835.0,2995.7 L1839.0,2995.7 L1842.9,2995.8 L1846.8,2995.9 L1850.8,2995.9 L1854.7,2995.9 L1858.6,2996.0 L1862.5,2996.0 L1866.5,2996.0 L1870.4,2996.0" stroke="#0000ff"/>
</g>
<path d="M377.4,2993.2v-8M377.4,1739.3v8M301.9,2933.1h8M1868.3,2933.1h-8M456.0,2993.2v-8M456.0,1739.3v8M301.9,2870.1h8M1868.3,2870.1h-8M534.5,2993.2v-8M534.5,1739.3v8M301.9,2807.2h8M1868.3,2807.2h-8M613.1,2993.2v-17.5M613.1,1739.3v17.5M301.9,2744.2h17.5M1868.3,2744.2h-17.5M691.7,2993.2v-8M691.7,1739.3v8M301.9,2681.3h8M1868.3,2681.3h-8M770.3,2993.2v-8M770.3,1739.3v8M301.9,2618.4h8M1868.3,2618.4h-8M848.9,2993.2v-8M848.9,1739.3v8M301.9,2555.4h8M1868.3,2555.4h-8M927.4,2993.2v-17.5M927.4,1739.3v17.5M301.9,2492.5h17.5M1868.3,2492.5h-17.5M1006.0,2993.2v-8M1006.0,1739.3v8M301.9,2429.5h8M1868.3,2429.5h-8M1084.6,2993.2v-8M1084.6,1739.3v8M301.9,2366.6h8M1868.3,2366.6h-8M1163.2,2993.2v-8M1163.2,1739.3v8M301.9,2303.7h8M1868.3,2303.7h-8M1241.8,2993.2v-17.5M1241.8,1739.3v17.5M301.9,2240.7h17.5M1868.3,2240.7h-17.5M1320.3,2993.2v-8M1320.3,1739.3v8M301.9,2177.8h8M1868.3,2177.8h-8M1398.9,2993.2v-8M1398.9,1739.3v8M301.9,2114.8h8M1868.3,2114.8h-8M1477.5,2993.2v-8M1477.5,1739.3v8M301.9,2051.9h8M1868.3,2051.9h-8M1556.1,2993.2v-17.5M1556.1,1739.3v17.5M301.9,1989.0h17.5M1868.3,1989.0h-17.5M1634.7,2993.2v-8M1634.7,1739.3v8M301.9,1926.0h8M1868.3,1926.0h-8M1713.2,2993.2v-8M1713.2,1739.3v8M301.9,1863.1h8M1868.3,1863.1h-8M1791.8,2993.2v-8M1791.8,1739.3v8M301.9,1800.1h8M1868.3,1800.1h-8" stroke="#3a3a3a" stroke-width="3.8" fill="none"/>
<g font-family="'Liberation Sans', Arial, sans-serif" font-size="61" fill="#141414" stroke="#fff" stroke-width="0.5">
<text transform="translate(284.3 3017.3) scale(1 1.06)" text-anchor="end">0.0</text>
<text transform="translate(297.3 3065.3) scale(1 1.06)" text-anchor="middle">0.0</text>
<text transform="translate(284.3 2765.5) scale(1 1.06)" text-anchor="end">0.2</text>
<text transform="translate(614.1 3065.3) scale(1 1.06)" text-anchor="middle">0.2</text>
<text transform="translate(284.3 2513.8) scale(1 1.06)" text-anchor="end">0.4</text>
<text transform="translate(928.4 3065.3) scale(1 1.06)" text-anchor="middle">0.4</text>
<text transform="translate(284.3 2262.0) scale(1 1.06)" text-anchor="end">0.6</text>
<text transform="translate(1242.8 3065.3) scale(1 1.06)" text-anchor="middle">0.6</text>
<text transform="translate(284.3 2010.3) scale(1 1.06)" text-anchor="end">0.8</text>
<text transform="translate(1557.1 3065.3) scale(1 1.06)" text-anchor="middle">0.8</text>
<text transform="translate(284.3 1758.5) scale(1 1.06)" text-anchor="end">1.0</text>
<text transform="translate(1871.4 3065.3) scale(1 1.06)" text-anchor="middle">1.0</text>
</g>
<text class="ylabel" fill="#000" font-family="'Liberation Serif', 'Times New Roman', serif"><tspan x="46.50" y="2374.10" font-size="75.69" textLength="50.18" lengthAdjust="spacingAndGlyphs" font-weight="bold" font-style="italic">R</tspan><tspan x="99.94" y="2374.27" font-size="76.33" textLength="32.26" lengthAdjust="spacingAndGlyphs" stroke="#fff" stroke-width="0.90">(</tspan><tspan x="130.76" y="2373.78" font-size="81.75" textLength="27.27" lengthAdjust="spacingAndGlyphs" font-weight="bold" font-style="italic" stroke="#fff" stroke-width="1.50">t</tspan><tspan x="161.15" y="2374.27" font-size="76.33" textLength="31.64" lengthAdjust="spacingAndGlyphs" stroke="#fff" stroke-width="0.90">)</tspan></text>
<g class="xlabel" fill="#000"><text transform="translate(1030.21 3131.20) scale(0.9978 0.9442)" font-family="'Liberation Serif', serif" font-weight="bold" font-style="italic" font-size="80">T</text></g>
<line x1="1961.4" y1="2273.4" x2="2157.4" y2="2273.4" stroke="#ff0000" stroke-width="7.4"/>
<text x="2186.9" y="2291.3" font-family="'Liberation Sans', Arial, sans-serif" font-size="64.5" fill="#111" stroke="#fff" stroke-width="0.5">Cold</text>
<line x1="1965.4" y1="2388.1" x2="2157.4" y2="2388.1" stroke="#e19c24" stroke-width="7.4" stroke-dasharray="20.2 19.3"/>
<text x="2186.9" y="2406.0" font-family="'Liberation Sans', Arial, sans-serif" font-size="64.5" fill="#111" stroke="#fff" stroke-width="0.5">Hot</text>
<line x1="1961.4" y1="2502.8" x2="2157.4" y2="2502.8" stroke="#0000ff" stroke-width="7.4"/>
<text x="2186.9" y="2520.7" font-family="'Liberation Sans', Arial, sans-serif" font-size="64.5" fill="#111" stroke="#fff" stroke-width="0.5">Original</text>
</g>
<g class="chart" id="c3">
<line x1="312.5" y1="3385.2" x2="312.5" y2="4652.0" stroke="#c4c4c4" stroke-width="3.6"/>
<line x1="315.7" y1="3385.2" x2="315.7" y2="4652.0" stroke="#2a2a2a" stroke-width="3.0"/>
<line x1="1889.5" y1="3385.2" x2="1889.5" y2="4652.0" stroke="#222222" stroke-width="3.8"/>
<line x1="311.5" y1="3388.5" x2="1891.4" y2="3388.5" stroke="#707070" stroke-width="6.6"/>
<line x1="311.5" y1="4650.2" x2="1891.4" y2="4650.2" stroke="#222222" stroke-width="3.6"/>
<g clip-path="url(#clip-c3)" fill="none" stroke-width="7.4" stroke-linejoin="round">
<path d="M314.5,3388.5 L318.4,3388.5 L322.4,3388.5 L326.3,3388.5 L330.2,3388.5 L334.2,3388.5 L338.1,3388.5 L342.1,3388.6 L346.0,3388.6 L349.9,3388.6 L353.9,3388.7 L357.8,3388.7 L361.8,3388.8 L365.7,3388.8 L369.6,3388.9 L373.6,3389.0 L377.5,3389.1 L381.4,3389.3 L385.4,3389.4 L389.3,3389.5 L393.2,3389.7 L397.2,3389.9 L401.1,3390.1 L405.1,3390.3 L409.0,3390.6 L412.9,3390.9 L416.9,3391.1 L420.8,3391.5 L424.8,3391.8 L428.7,3392.1 L432.6,3392.5 L436.6,3392.9 L440.5,3393.3 L444.4,3393.8 L448.4,3394.3 L452.3,3394.8 L456.2,3395.3 L460.2,3395.9 L464.1,3396.5 L468.1,3397.1 L472.0,3397.7 L475.9,3398.4 L479.9,3399.1 L483.8,3399.9 L487.8,3400.6 L491.7,3401.4 L495.6,3402.2 L499.6,3403.1 L503.5,3404.0 L507.4,3404.9 L511.4,3405.9 L515.3,3406.9 L519.2,3407.9 L523.2,3409.0 L527.1,3410.1 L531.1,3411.2 L535.0,3412.4 L538.9,3413.6 L542.9,3414.8 L546.8,3416.1 L550.8,3417.4 L554.7,3418.8 L558.6,3420.1 L562.6,3421.5 L566.5,3423.0 L570.4,3424.5 L574.4,3426.0 L578.3,3427.6 L582.2,3429.2 L586.2,3430.8 L590.1,3432.5 L594.1,3434.2 L598.0,3435.9 L601.9,3437.7 L605.9,3439.6 L609.8,3441.4 L613.8,3443.3 L617.7,3445.2 L621.6,3447.2 L625.6,3449.2 L629.5,3451.3 L633.4,3453.3 L637.4,3455.5 L641.3,3457.6 L645.2,3459.8 L649.2,3462.0 L653.1,3464.3 L657.1,3466.6 L661.0,3468.9 L664.9,3471.3 L668.9,3473.7 L672.8,3476.1 L676.8,3478.6 L680.7,3481.1 L684.6,3483.7 L688.6,3486.3 L692.5,3488.9 L696.4,3491.5 L700.4,3494.2 L704.3,3496.9 L708.2,3499.7 L712.2,3502.5 L716.1,3505.3 L720.1,3508.1 L724.0,3511.0 L727.9,3514.0 L731.9,3516.9 L735.8,3519.9 L739.8,3522.9 L743.7,3526.0 L747.6,3529.0 L751.6,3532.1 L755.5,3535.3 L759.4,3538.5 L763.4,3541.7 L767.3,3544.9 L771.2,3548.2 L775.2,3551.5 L779.1,3554.8 L783.1,3558.1 L787.0,3561.5 L790.9,3564.9 L794.9,3568.3 L798.8,3571.8 L802.8,3575.3 L806.7,3578.8 L810.6,3582.3 L814.6,3585.9 L818.5,3589.5 L822.4,3593.1 L826.4,3596.8 L830.3,3600.4 L834.2,3604.1 L838.2,3607.8 L842.1,3611.6 L846.1,3615.3 L850.0,3619.1 L853.9,3622.9 L857.9,3626.8 L861.8,3630.6 L865.8,3634.5 L869.7,3638.4 L873.6,3642.3 L877.6,3646.2 L881.5,3650.2 L885.4,3654.2 L889.4,3658.2 L893.3,3662.2 L897.2,3666.2 L901.2,3670.3 L905.1,3674.3 L909.1,3678.4 L913.0,3682.5 L916.9,3686.7 L920.9,3690.8 L924.8,3694.9 L928.8,3699.1 L932.7,3703.3 L936.6,3707.5 L940.6,3711.7 L944.5,3715.9 L948.4,3720.2 L952.4,3724.4 L956.3,3728.7 L960.2,3733.0 L964.2,3737.3 L968.1,3741.6 L972.1,3745.9 L976.0,3750.2 L979.9,3754.5 L983.9,3758.9 L987.8,3763.3 L991.8,3767.6 L995.7,3772.0 L999.6,3776.4 L1003.6,3780.8 L1007.5,3785.2 L1011.4,3789.6 L1015.4,3794.0 L1019.3,3798.4 L1023.2,3802.9 L1027.2,3807.3 L1031.1,3811.8 L1035.1,3816.2 L1039.0,3820.7 L1042.9,3825.1 L1046.9,3829.6 L1050.8,3834.1 L1054.8,3838.5 L1058.7,3843.0 L1062.6,3847.5 L1066.6,3852.0 L1070.5,3856.5 L1074.4,3861.0 L1078.4,3865.5 L1082.3,3870.0 L1086.2,3874.5 L1090.2,3879.0 L1094.1,3883.5 L1098.1,3888.0 L1102.0,3892.5 L1105.9,3897.0 L1109.9,3901.5 L1113.8,3906.0 L1117.8,3910.5 L1121.7,3915.0 L1125.6,3919.5 L1129.6,3924.0 L1133.5,3928.5 L1137.4,3933.0 L1141.4,3937.5 L1145.3,3941.9 L1149.2,3946.4 L1153.2,3950.9 L1157.1,3955.4 L1161.1,3959.9 L1165.0,3964.3 L1168.9,3968.8 L1172.9,3973.3 L1176.8,3977.7 L1180.8,3982.2 L1184.7,3986.6 L1188.6,3991.0 L1192.6,3995.5 L1196.5,3999.9 L1200.4,4004.3 L1204.4,4008.7 L1208.3,4013.2 L1212.2,4017.6 L1216.2,4021.9 L1220.1,4026.3 L1224.1,4030.7 L1228.0,4035.1 L1231.9,4039.4 L1235.9,4043.8 L1239.8,4048.1 L1243.8,4052.5 L1247.7,4056.8 L1251.6,4061.1 L1255.6,4065.4 L1259.5,4069.7 L1263.4,4074.0 L1267.4,4078.3 L1271.3,4082.5 L1275.2,4086.8 L1279.2,4091.0 L1283.1,4095.3 L1287.1,4099.5 L1291.0,4103.7 L1294.9,4107.9 L1298.9,4112.1 L1302.8,4116.3 L1306.8,4120.4 L1310.7,4124.6 L1314.6,4128.7 L1318.6,4132.8 L1322.5,4136.9 L1326.4,4141.0 L1330.4,4145.1 L1334.3,4149.2 L1338.2,4153.3 L1342.2,4157.3 L1346.1,4161.3 L1350.1,4165.4 L1354.0,4169.4 L1357.9,4173.4 L1361.9,4177.3 L1365.8,4181.3 L1369.8,4185.2 L1373.7,4189.2 L1377.6,4193.1 L1381.6,4197.0 L1385.5,4200.9 L1389.4,4204.8 L1393.4,4208.6 L1397.3,4212.4 L1401.2,4216.3 L1405.2,4220.1 L1409.1,4223.9 L1413.1,4227.7 L1417.0,4231.4 L1420.9,4235.2 L1424.9,4238.9 L1428.8,4242.6 L1432.8,4246.3 L1436.7,4250.0 L1440.6,4253.6 L1444.6,4257.3 L1448.5,4260.9 L1452.4,4264.5 L1456.4,4268.1 L1460.3,4271.7 L1464.2,4275.2 L1468.2,4278.8 L1472.1,4282.3 L1476.1,4285.8 L1480.0,4289.3 L1483.9,4292.8 L1487.9,4296.2 L1491.8,4299.7 L1495.8,4303.1 L1499.7,4306.5 L1503.6,4309.9 L1507.6,4313.2 L1511.5,4316.6 L1515.4,4319.9 L1519.4,4323.2 L1523.3,4326.5 L1527.2,4329.8 L1531.2,4333.0 L1535.1,4336.3 L1539.1,4339.5 L1543.0,4342.7 L1546.9,4345.9 L1550.9,4349.0 L1554.8,4352.2 L1558.8,4355.3 L1562.7,4358.4 L1566.6,4361.5 L1570.6,4364.5 L1574.5,4367.6 L1578.4,4370.6 L1582.4,4373.6 L1586.3,4376.6 L1590.2,4379.6 L1594.2,4382.5 L1598.1,4385.5 L1602.1,4388.4 L1606.0,4391.3 L1609.9,4394.1 L1613.9,4397.0 L1617.8,4399.8 L1621.8,4402.7 L1625.7,4405.5 L1629.6,4408.2 L1633.6,4411.0 L1637.5,4413.7 L1641.4,4416.5 L1645.4,4419.2 L1649.3,4421.8 L1653.2,4424.5 L1657.2,4427.1 L1661.1,4429.8 L1665.1,4432.4 L1669.0,4435.0 L1672.9,4437.5 L1676.9,4440.1 L1680.8,4442.6 L1684.8,4445.1 L1688.7,4447.6 L1692.6,4450.1 L1696.6,4452.5 L1700.5,4454.9 L1704.4,4457.3 L1708.4,4459.7 L1712.3,4462.1 L1716.2,4464.5 L1720.2,4466.8 L1724.1,4469.1 L1728.1,4471.4 L1732.0,4473.7 L1735.9,4475.9 L1739.9,4478.2 L1743.8,4480.4 L1747.8,4482.6 L1751.7,4484.8 L1755.6,4486.9 L1759.6,4489.1 L1763.5,4491.2 L1767.4,4493.3 L1771.4,4495.4 L1775.3,4497.4 L1779.2,4499.5 L1783.2,4501.5 L1787.1,4503.5 L1791.1,4505.5 L1795.0,4507.5 L1798.9,4509.4 L1802.9,4511.4 L1806.8,4513.3 L1810.8,4515.2 L1814.7,4517.1 L1818.6,4518.9 L1822.6,4520.8 L1826.5,4522.6 L1830.4,4524.4 L1834.4,4526.2 L1838.3,4528.0 L1842.2,4529.7 L1846.2,4531.4 L1850.1,4533.2 L1854.1,4534.8 L1858.0,4536.5 L1861.9,4538.2 L1865.9,4539.8 L1869.8,4541.4 L1873.8,4543.1 L1877.7,4544.6 L1881.6,4546.2 L1885.6,4547.8 L1889.5,4549.3" stroke="#ff0000"/>
<path d="M314.5,3388.5 L318.4,3388.5 L322.4,3388.5 L326.3,3388.5 L330.2,3388.5 L334.2,3388.5 L338.1,3388.6 L342.1,3388.6 L346.0,3388.7 L349.9,3388.7 L353.9,3388.8 L357.8,3388.9 L361.8,3389.0 L365.7,3389.2 L369.6,3389.3 L373.6,3389.5 L377.5,3389.7 L381.4,3390.0 L385.4,3390.2 L389.3,3390.5 L393.2,3390.9 L397.2,3391.2 L401.1,3391.6 L405.1,3392.1 L409.0,3392.5 L412.9,3393.0 L416.9,3393.6 L420.8,3394.2 L424.8,3394.8 L428.7,3395.4 L432.6,3396.2 L436.6,3396.9 L440.5,3397.7 L444.4,3398.5 L448.4,3399.4 L452.3,3400.4 L456.2,3401.4 L460.2,3402.4 L464.1,3403.5 L468.1,3404.6 L472.0,3405.8 L475.9,3407.0 L479.9,3408.3 L483.8,3409.7 L487.8,3411.1 L491.7,3412.5 L495.6,3414.0 L499.6,3415.6 L503.5,3417.2 L507.4,3418.9 L511.4,3420.6 L515.3,3422.4 L519.2,3424.2 L523.2,3426.1 L527.1,3428.1 L531.1,3430.1 L535.0,3432.1 L538.9,3434.2 L542.9,3436.4 L546.8,3438.7 L550.8,3441.0 L554.7,3443.3 L558.6,3445.7 L562.6,3448.2 L566.5,3450.7 L570.4,3453.3 L574.4,3455.9 L578.3,3458.6 L582.2,3461.4 L586.2,3464.2 L590.1,3467.0 L594.1,3469.9 L598.0,3472.9 L601.9,3475.9 L605.9,3479.0 L609.8,3482.2 L613.8,3485.4 L617.7,3488.6 L621.6,3491.9 L625.6,3495.3 L629.5,3498.7 L633.4,3502.2 L637.4,3505.7 L641.3,3509.2 L645.2,3512.9 L649.2,3516.5 L653.1,3520.3 L657.1,3524.0 L661.0,3527.8 L664.9,3531.7 L668.9,3535.6 L672.8,3539.6 L676.8,3543.6 L680.7,3547.7 L684.6,3551.8 L688.6,3555.9 L692.5,3560.1 L696.4,3564.4 L700.4,3568.7 L704.3,3573.0 L708.2,3577.4 L712.2,3581.8 L716.1,3586.3 L720.1,3590.8 L724.0,3595.3 L727.9,3599.9 L731.9,3604.5 L735.8,3609.2 L739.8,3613.9 L743.7,3618.6 L747.6,3623.4 L751.6,3628.2 L755.5,3633.0 L759.4,3637.9 L763.4,3642.8 L767.3,3647.7 L771.2,3652.7 L775.2,3657.7 L779.1,3662.8 L783.1,3667.8 L787.0,3672.9 L790.9,3678.0 L794.9,3683.2 L798.8,3688.4 L802.8,3693.6 L806.7,3698.8 L810.6,3704.1 L814.6,3709.4 L818.5,3714.7 L822.4,3720.0 L826.4,3725.4 L830.3,3730.7 L834.2,3736.1 L838.2,3741.5 L842.1,3747.0 L846.1,3752.4 L850.0,3757.9 L853.9,3763.4 L857.9,3768.9 L861.8,3774.4 L865.8,3780.0 L869.7,3785.5 L873.6,3791.1 L877.6,3796.7 L881.5,3802.3 L885.4,3807.9 L889.4,3813.5 L893.3,3819.1 L897.2,3824.8 L901.2,3830.4 L905.1,3836.1 L909.1,3841.8 L913.0,3847.4 L916.9,3853.1 L920.9,3858.8 L924.8,3864.5 L928.8,3870.2 L932.7,3875.9 L936.6,3881.6 L940.6,3887.4 L944.5,3893.1 L948.4,3898.8 L952.4,3904.5 L956.3,3910.2 L960.2,3915.9 L964.2,3921.7 L968.1,3927.4 L972.1,3933.1 L976.0,3938.8 L979.9,3944.5 L983.9,3950.3 L987.8,3956.0 L991.8,3961.7 L995.7,3967.4 L999.6,3973.1 L1003.6,3978.8 L1007.5,3984.4 L1011.4,3990.1 L1015.4,3995.8 L1019.3,4001.4 L1023.2,4007.1 L1027.2,4012.7 L1031.1,4018.4 L1035.1,4024.0 L1039.0,4029.6 L1042.9,4035.2 L1046.9,4040.8 L1050.8,4046.4 L1054.8,4052.0 L1058.7,4057.5 L1062.6,4063.1 L1066.6,4068.6 L1070.5,4074.1 L1074.4,4079.6 L1078.4,4085.1 L1082.3,4090.6 L1086.2,4096.0 L1090.2,4101.5 L1094.1,4106.9 L1098.1,4112.3 L1102.0,4117.7 L1105.9,4123.1 L1109.9,4128.4 L1113.8,4133.8 L1117.8,4139.1 L1121.7,4144.4 L1125.6,4149.7 L1129.6,4155.0 L1133.5,4160.2 L1137.4,4165.4 L1141.4,4170.6 L1145.3,4175.8 L1149.2,4181.0 L1153.2,4186.1 L1157.1,4191.2 L1161.1,4196.3 L1165.0,4201.4 L1168.9,4206.5 L1172.9,4211.5 L1176.8,4216.5 L1180.8,4221.5 L1184.7,4226.4 L1188.6,4231.4 L1192.6,4236.3 L1196.5,4241.2 L1200.4,4246.0 L1204.4,4250.9 L1208.3,4255.7 L1212.2,4260.5 L1216.2,4265.2 L1220.1,4270.0 L1224.1,4274.7 L1228.0,4279.3 L1231.9,4284.0 L1235.9,4288.6 L1239.8,4293.2 L1243.8,4297.8 L1247.7,4302.4 L1251.6,4306.9 L1255.6,4311.4 L1259.5,4315.8 L1263.4,4320.3 L1267.4,4324.7 L1271.3,4329.1 L1275.2,4333.4 L1279.2,4337.7 L1283.1,4342.0 L1287.1,4346.3 L1291.0,4350.5 L1294.9,4354.7 L1298.9,4358.9 L1302.8,4363.1 L1306.8,4367.2 L1310.7,4371.3 L1314.6,4375.3 L1318.6,4379.4 L1322.5,4383.4 L1326.4,4387.3 L1330.4,4391.3 L1334.3,4395.2 L1338.2,4399.1 L1342.2,4402.9 L1346.1,4406.7 L1350.1,4410.5 L1354.0,4414.3 L1357.9,4418.0 L1361.9,4421.7 L1365.8,4425.4 L1369.8,4429.0 L1373.7,4432.6 L1377.6,4436.2 L1381.6,4439.7 L1385.5,4443.2 L1389.4,4446.7 L1393.4,4450.2 L1397.3,4453.6 L1401.2,4457.0 L1405.2,4460.3 L1409.1,4463.6 L1413.1,4466.9 L1417.0,4470.2 L1420.9,4473.4 L1424.9,4476.6 L1428.8,4479.8 L1432.8,4482.9 L1436.7,4486.0 L1440.6,4489.1 L1444.6,4492.1 L1448.5,4495.2 L1452.4,4498.1 L1456.4,4501.1 L1460.3,4504.0 L1464.2,4506.9 L1468.2,4509.7 L1472.1,4512.6 L1476.1,4515.4 L1480.0,4518.1 L1483.9,4520.8 L1487.9,4523.5 L1491.8,4526.2 L1495.8,4528.9 L1499.7,4531.5 L1503.6,4534.0 L1507.6,4536.6 L1511.5,4539.1 L1515.4,4541.6 L1519.4,4544.0 L1523.3,4546.4 L1527.2,4548.8 L1531.2,4551.2 L1535.1,4553.5 L1539.1,4555.8 L1543.0,4558.1 L1546.9,4560.3 L1550.9,4562.5 L1554.8,4564.7 L1558.8,4566.9 L1562.7,4569.0 L1566.6,4571.1 L1570.6,4573.1 L1574.5,4575.1 L1578.4,4577.1 L1582.4,4579.1 L1586.3,4581.0 L1590.2,4583.0 L1594.2,4584.8 L1598.1,4586.7 L1602.1,4588.5 L1606.0,4590.3 L1609.9,4592.1 L1613.9,4593.8 L1617.8,4595.5 L1621.8,4597.2 L1625.7,4598.8 L1629.6,4600.4 L1633.6,4602.0 L1637.5,4603.6 L1641.4,4605.1 L1645.4,4606.6 L1649.3,4608.1 L1653.2,4609.6 L1657.2,4611.0 L1661.1,4612.4 L1665.1,4613.7 L1669.0,4615.1 L1672.9,4616.4 L1676.9,4617.7 L1680.8,4618.9 L1684.8,4620.2 L1688.7,4621.4 L1692.6,4622.6 L1696.6,4623.7 L1700.5,4624.8 L1704.4,4625.9 L1708.4,4627.0 L1712.3,4628.0 L1716.2,4629.1 L1720.2,4630.1 L1724.1,4631.0 L1728.1,4632.0 L1732.0,4632.9 L1735.9,4633.8 L1739.9,4634.6 L1743.8,4635.5 L1747.8,4636.3 L1751.7,4637.1 L1755.6,4637.8 L1759.6,4638.6 L1763.5,4639.3 L1767.4,4640.0 L1771.4,4640.7 L1775.3,4641.3 L1779.2,4641.9 L1783.2,4642.5 L1787.1,4643.1 L1791.1,4643.7 L1795.0,4644.2 L1798.9,4644.7 L1802.9,4645.2 L1806.8,4645.6 L1810.8,4646.1 L1814.7,4646.5 L1818.6,4646.9 L1822.6,4647.2 L1826.5,4647.6 L1830.4,4647.9 L1834.4,4648.2 L1838.3,4648.5 L1842.2,4648.7 L1846.2,4649.0 L1850.1,4649.2 L1854.1,4649.4 L1858.0,4649.6 L1861.9,4649.7 L1865.9,4649.8 L1869.8,4650.0 L1873.8,4650.0 L1877.7,4650.1 L1881.6,4650.2 L1885.6,4650.2 L1889.5,4650.2" stroke="#e19c24" stroke-dasharray="20 19.2"/>
<path d="M314.5,3388.5 L318.4,3388.6 L322.4,3388.8 L326.3,3389.1 L330.2,3389.5 L334.2,3390.1 L338.1,3390.8 L342.1,3391.6 L346.0,3392.5 L349.9,3393.6 L353.9,3394.8 L357.8,3396.1 L361.8,3397.5 L365.7,3399.0 L369.6,3400.7 L373.6,3402.5 L377.5,3404.4 L381.4,3406.4 L385.4,3408.5 L389.3,3410.7 L393.2,3413.1 L397.2,3415.5 L401.1,3418.1 L405.1,3420.7 L409.0,3423.5 L412.9,3426.4 L416.9,3429.4 L420.8,3432.4 L424.8,3435.6 L428.7,3438.9 L432.6,3442.2 L436.6,3445.7 L440.5,3449.2 L444.4,3452.9 L448.4,3456.6 L452.3,3460.4 L456.2,3464.3 L460.2,3468.3 L464.1,3472.3 L468.1,3476.5 L472.0,3480.7 L475.9,3485.0 L479.9,3489.4 L483.8,3493.8 L487.8,3498.3 L491.7,3502.9 L495.6,3507.5 L499.6,3512.3 L503.5,3517.0 L507.4,3521.9 L511.4,3526.8 L515.3,3531.8 L519.2,3536.8 L523.2,3541.9 L527.1,3547.0 L531.1,3552.2 L535.0,3557.4 L538.9,3562.7 L542.9,3568.0 L546.8,3573.4 L550.8,3578.9 L554.7,3584.3 L558.6,3589.8 L562.6,3595.4 L566.5,3601.0 L570.4,3606.6 L574.4,3612.3 L578.3,3618.0 L582.2,3623.8 L586.2,3629.5 L590.1,3635.3 L594.1,3641.2 L598.0,3647.0 L601.9,3652.9 L605.9,3658.9 L609.8,3664.8 L613.8,3670.8 L617.7,3676.8 L621.6,3682.8 L625.6,3688.8 L629.5,3694.8 L633.4,3700.9 L637.4,3707.0 L641.3,3713.1 L645.2,3719.2 L649.2,3725.3 L653.1,3731.5 L657.1,3737.6 L661.0,3743.8 L664.9,3749.9 L668.9,3756.1 L672.8,3762.3 L676.8,3768.5 L680.7,3774.7 L684.6,3780.9 L688.6,3787.1 L692.5,3793.3 L696.4,3799.5 L700.4,3805.7 L704.3,3811.9 L708.2,3818.1 L712.2,3824.3 L716.1,3830.5 L720.1,3836.7 L724.0,3842.9 L727.9,3849.0 L731.9,3855.2 L735.8,3861.4 L739.8,3867.6 L743.7,3873.7 L747.6,3879.9 L751.6,3886.0 L755.5,3892.1 L759.4,3898.2 L763.4,3904.4 L767.3,3910.4 L771.2,3916.5 L775.2,3922.6 L779.1,3928.6 L783.1,3934.7 L787.0,3940.7 L790.9,3946.7 L794.9,3952.7 L798.8,3958.7 L802.8,3964.6 L806.7,3970.6 L810.6,3976.5 L814.6,3982.4 L818.5,3988.3 L822.4,3994.2 L826.4,4000.0 L830.3,4005.8 L834.2,4011.6 L838.2,4017.4 L842.1,4023.2 L846.1,4028.9 L850.0,4034.6 L853.9,4040.3 L857.9,4046.0 L861.8,4051.7 L865.8,4057.3 L869.7,4062.9 L873.6,4068.5 L877.6,4074.0 L881.5,4079.6 L885.4,4085.1 L889.4,4090.5 L893.3,4096.0 L897.2,4101.4 L901.2,4106.8 L905.1,4112.2 L909.1,4117.5 L913.0,4122.9 L916.9,4128.1 L920.9,4133.4 L924.8,4138.7 L928.8,4143.9 L932.7,4149.0 L936.6,4154.2 L940.6,4159.3 L944.5,4164.4 L948.4,4169.5 L952.4,4174.5 L956.3,4179.5 L960.2,4184.5 L964.2,4189.5 L968.1,4194.4 L972.1,4199.3 L976.0,4204.2 L979.9,4209.0 L983.9,4213.8 L987.8,4218.6 L991.8,4223.3 L995.7,4228.0 L999.6,4232.7 L1003.6,4237.4 L1007.5,4242.0 L1011.4,4246.6 L1015.4,4251.2 L1019.3,4255.7 L1023.2,4260.2 L1027.2,4264.7 L1031.1,4269.1 L1035.1,4273.5 L1039.0,4277.9 L1042.9,4282.3 L1046.9,4286.6 L1050.8,4290.9 L1054.8,4295.1 L1058.7,4299.4 L1062.6,4303.6 L1066.6,4307.7 L1070.5,4311.9 L1074.4,4316.0 L1078.4,4320.1 L1082.3,4324.1 L1086.2,4328.1 L1090.2,4332.1 L1094.1,4336.0 L1098.1,4340.0 L1102.0,4343.9 L1105.9,4347.7 L1109.9,4351.6 L1113.8,4355.4 L1117.8,4359.1 L1121.7,4362.9 L1125.6,4366.6 L1129.6,4370.3 L1133.5,4373.9 L1137.4,4377.5 L1141.4,4381.1 L1145.3,4384.7 L1149.2,4388.2 L1153.2,4391.7 L1157.1,4395.2 L1161.1,4398.6 L1165.0,4402.0 L1168.9,4405.4 L1172.9,4408.8 L1176.8,4412.1 L1180.8,4415.4 L1184.7,4418.6 L1188.6,4421.9 L1192.6,4425.1 L1196.5,4428.3 L1200.4,4431.4 L1204.4,4434.5 L1208.3,4437.6 L1212.2,4440.7 L1216.2,4443.7 L1220.1,4446.7 L1224.1,4449.7 L1228.0,4452.6 L1231.9,4455.6 L1235.9,4458.5 L1239.8,4461.3 L1243.8,4464.2 L1247.7,4467.0 L1251.6,4469.8 L1255.6,4472.5 L1259.5,4475.2 L1263.4,4477.9 L1267.4,4480.6 L1271.3,4483.3 L1275.2,4485.9 L1279.2,4488.5 L1283.1,4491.0 L1287.1,4493.6 L1291.0,4496.1 L1294.9,4498.6 L1298.9,4501.0 L1302.8,4503.5 L1306.8,4505.9 L1310.7,4508.3 L1314.6,4510.6 L1318.6,4513.0 L1322.5,4515.3 L1326.4,4517.6 L1330.4,4519.8 L1334.3,4522.1 L1338.2,4524.3 L1342.2,4526.4 L1346.1,4528.6 L1350.1,4530.7 L1354.0,4532.9 L1357.9,4534.9 L1361.9,4537.0 L1365.8,4539.0 L1369.8,4541.1 L1373.7,4543.0 L1377.6,4545.0 L1381.6,4547.0 L1385.5,4548.9 L1389.4,4550.8 L1393.4,4552.7 L1397.3,4554.5 L1401.2,4556.3 L1405.2,4558.1 L1409.1,4559.9 L1413.1,4561.7 L1417.0,4563.4 L1420.9,4565.2 L1424.9,4566.9 L1428.8,4568.5 L1432.8,4570.2 L1436.7,4571.8 L1440.6,4573.4 L1444.6,4575.0 L1448.5,4576.6 L1452.4,4578.1 L1456.4,4579.7 L1460.3,4581.2 L1464.2,4582.7 L1468.2,4584.1 L1472.1,4585.6 L1476.1,4587.0 L1480.0,4588.4 L1483.9,4589.8 L1487.9,4591.1 L1491.8,4592.5 L1495.8,4593.8 L1499.7,4595.1 L1503.6,4596.4 L1507.6,4597.7 L1511.5,4598.9 L1515.4,4600.2 L1519.4,4601.4 L1523.3,4602.6 L1527.2,4603.8 L1531.2,4604.9 L1535.1,4606.1 L1539.1,4607.2 L1543.0,4608.3 L1546.9,4609.4 L1550.9,4610.4 L1554.8,4611.5 L1558.8,4612.5 L1562.7,4613.6 L1566.6,4614.6 L1570.6,4615.5 L1574.5,4616.5 L1578.4,4617.5 L1582.4,4618.4 L1586.3,4619.3 L1590.2,4620.2 L1594.2,4621.1 L1598.1,4622.0 L1602.1,4622.8 L1606.0,4623.7 L1609.9,4624.5 L1613.9,4625.3 L1617.8,4626.1 L1621.8,4626.9 L1625.7,4627.6 L1629.6,4628.4 L1633.6,4629.1 L1637.5,4629.8 L1641.4,4630.5 L1645.4,4631.2 L1649.3,4631.9 L1653.2,4632.5 L1657.2,4633.2 L1661.1,4633.8 L1665.1,4634.4 L1669.0,4635.0 L1672.9,4635.6 L1676.9,4636.2 L1680.8,4636.8 L1684.8,4637.3 L1688.7,4637.8 L1692.6,4638.4 L1696.6,4638.9 L1700.5,4639.4 L1704.4,4639.8 L1708.4,4640.3 L1712.3,4640.8 L1716.2,4641.2 L1720.2,4641.7 L1724.1,4642.1 L1728.1,4642.5 L1732.0,4642.9 L1735.9,4643.3 L1739.9,4643.6 L1743.8,4644.0 L1747.8,4644.4 L1751.7,4644.7 L1755.6,4645.0 L1759.6,4645.3 L1763.5,4645.7 L1767.4,4646.0 L1771.4,4646.2 L1775.3,4646.5 L1779.2,4646.8 L1783.2,4647.0 L1787.1,4647.3 L1791.1,4647.5 L1795.0,4647.7 L1798.9,4647.9 L1802.9,4648.1 L1806.8,4648.3 L1810.8,4648.5 L1814.7,4648.7 L1818.6,4648.8 L1822.6,4649.0 L1826.5,4649.1 L1830.4,4649.3 L1834.4,4649.4 L1838.3,4649.5 L1842.2,4649.6 L1846.2,4649.7 L1850.1,4649.8 L1854.1,4649.9 L1858.0,4649.9 L1861.9,4650.0 L1865.9,4650.1 L1869.8,4650.1 L1873.8,4650.1 L1877.7,4650.2 L1881.6,4650.2 L1885.6,4650.2 L1889.5,4650.2" stroke="#0000ff"/>
</g>
<path d="M393.2,4648.4v-8M393.2,3391.8v8M317.5,4587.1h8M1887.6,4587.1h-8M472.0,4648.4v-8M472.0,3391.8v8M317.5,4524.0h8M1887.6,4524.0h-8M550.8,4648.4v-8M550.8,3391.8v8M317.5,4460.9h8M1887.6,4460.9h-8M629.5,4648.4v-17.5M629.5,3391.8v17.5M317.5,4397.9h17.5M1887.6,4397.9h-17.5M708.2,4648.4v-8M708.2,3391.8v8M317.5,4334.8h8M1887.6,4334.8h-8M787.0,4648.4v-8M787.0,3391.8v8M317.5,4271.7h8M1887.6,4271.7h-8M865.8,4648.4v-8M865.8,3391.8v8M317.5,4208.6h8M1887.6,4208.6h-8M944.5,4648.4v-17.5M944.5,3391.8v17.5M317.5,4145.5h17.5M1887.6,4145.5h-17.5M1023.2,4648.4v-8M1023.2,3391.8v8M317.5,4082.4h8M1887.6,4082.4h-8M1102.0,4648.4v-8M1102.0,3391.8v8M317.5,4019.3h8M1887.6,4019.3h-8M1180.8,4648.4v-8M1180.8,3391.8v8M317.5,3956.3h8M1887.6,3956.3h-8M1259.5,4648.4v-17.5M1259.5,3391.8v17.5M317.5,3893.2h17.5M1887.6,3893.2h-17.5M1338.2,4648.4v-8M1338.2,3391.8v8M317.5,3830.1h8M1887.6,3830.1h-8M1417.0,4648.4v-8M1417.0,3391.8v8M317.5,3767.0h8M1887.6,3767.0h-8M1495.8,4648.4v-8M1495.8,3391.8v8M317.5,3703.9h8M1887.6,3703.9h-8M1574.5,4648.4v-17.5M1574.5,3391.8v17.5M317.5,3640.8h17.5M1887.6,3640.8h-17.5M1653.3,4648.4v-8M1653.3,3391.8v8M317.5,3577.8h8M1887.6,3577.8h-8M1732.0,4648.4v-8M1732.0,3391.8v8M317.5,3514.7h8M1887.6,3514.7h-8M1810.8,4648.4v-8M1810.8,3391.8v8M317.5,3451.6h8M1887.6,3451.6h-8" stroke="#3a3a3a" stroke-width="3.8" fill="none"/>
<g font-family="'Liberation Sans', Arial, sans-serif" font-size="61" fill="#141414" stroke="#fff" stroke-width="0.5">
<text transform="translate(300.0 4672.5) scale(1 1.06)" text-anchor="end">0.0</text>
<text transform="translate(313.0 4719.5) scale(1 1.06)" text-anchor="middle">0.0</text>
<text transform="translate(300.0 4420.2) scale(1 1.06)" text-anchor="end">0.2</text>
<text transform="translate(630.5 4719.5) scale(1 1.06)" text-anchor="middle">0.2</text>
<text transform="translate(300.0 4167.8) scale(1 1.06)" text-anchor="end">0.4</text>
<text transform="translate(945.5 4719.5) scale(1 1.06)" text-anchor="middle">0.4</text>
<text transform="translate(300.0 3915.5) scale(1 1.06)" text-anchor="end">0.6</text>
<text transform="translate(1260.5 4719.5) scale(1 1.06)" text-anchor="middle">0.6</text>
<text transform="translate(300.0 3663.1) scale(1 1.06)" text-anchor="end">0.8</text>
<text transform="translate(1575.5 4719.5) scale(1 1.06)" text-anchor="middle">0.8</text>
<text transform="translate(300.0 3407.8) scale(1 1.06)" text-anchor="end">1.0</text>
<text transform="translate(1890.5 4719.5) scale(1 1.06)" text-anchor="middle">1.0</text>
</g>
<text class="ylabel" fill="#000" font-family="'Liberation Serif', 'Times New Roman', serif"><tspan x="58.90" y="4032.10" font-size="75.69" textLength="50.18" lengthAdjust="spacingAndGlyphs" font-weight="bold" font-style="italic">R</tspan><tspan x="112.34" y="4032.27" font-size="76.33" textLength="32.26" lengthAdjust="spacingAndGlyphs" stroke="#fff" stroke-width="0.90">(</tspan><tspan x="143.16" y="4031.78" font-size="81.75" textLength="27.27" lengthAdjust="spacingAndGlyphs" font-weight="bold" font-style="italic" stroke="#fff" stroke-width="1.50">t</tspan><tspan x="173.55" y="4032.27" font-size="76.33" textLength="31.64" lengthAdjust="spacingAndGlyphs" stroke="#fff" stroke-width="0.90">)</tspan></text>
<g class="xlabel" fill="#000"><text transform="translate(1039.11 4786.40) scale(0.9978 0.9481)" font-family="'Liberation Serif', serif" font-weight="bold" font-style="italic" font-size="80">T</text></g>
<line x1="1980.5" y1="3926.2" x2="2176.5" y2="3926.2" stroke="#ff0000" stroke-width="7.4"/>
<text x="2206.0" y="3944.1" font-family="'Liberation Sans', Arial, sans-serif" font-size="64.5" fill="#111" stroke="#fff" stroke-width="0.5">Cold</text>
<line x1="1984.5" y1="4040.8" x2="2176.5" y2="4040.8" stroke="#e19c24" stroke-width="7.4" stroke-dasharray="20.2 19.3"/>
<text x="2206.0" y="4058.8" font-family="'Liberation Sans', Arial, sans-serif" font-size="64.5" fill="#111" stroke="#fff" stroke-width="0.5">Hot</text>
<line x1="1980.5" y1="4155.6" x2="2176.5" y2="4155.6" stroke="#0000ff" stroke-width="7.4"/>
<text x="2206.0" y="4173.4" font-family="'Liberation Sans', Arial, sans-serif" font-size="64.5" fill="#111" stroke="#fff" stroke-width="0.5">Original</text>
</g>
<text class="caption" fill="#000" font-family="'Liberation Serif', 'Times New Roman', serif" aria-label="(a) B ∈ S4 = {{1,5},{2,4}}."><tspan x="773.61" y="1615.39" font-size="77.67" textLength="23.64" lengthAdjust="spacingAndGlyphs">(</tspan><tspan x="797.90" y="1616.51" font-size="77.05" textLength="35.05" lengthAdjust="spacingAndGlyphs" font-weight="bold">a</tspan><tspan x="833.87" y="1615.39" font-size="77.67" textLength="23.69" lengthAdjust="spacingAndGlyphs">)</tspan> <tspan x="882.12" y="1616.30" font-size="80.00" textLength="41.60" lengthAdjust="spacingAndGlyphs" font-style="italic">B</tspan> <tspan x="950.41" y="1618.38" font-size="62.22" textLength="48.03" lengthAdjust="spacingAndGlyphs" font-family="'DejaVu Sans', sans-serif" stroke="#fff" stroke-width="1.50">∈</tspan> <tspan x="1024.95" y="1616.48" font-size="81.79" textLength="37.37" lengthAdjust="spacingAndGlyphs" font-style="italic">S</tspan><tspan x="1064.13" y="1631.21" font-size="62.00" textLength="29.14" lengthAdjust="spacingAndGlyphs">4</tspan> <tspan x="1118.78" y="1621.86" font-size="76.40" textLength="62.22" lengthAdjust="spacingAndGlyphs">=</tspan> <tspan x="1200.78" y="1622.62" font-size="94.67" textLength="43.84" lengthAdjust="spacingAndGlyphs">{</tspan><tspan x="1242.11" y="1622.62" font-size="94.67" textLength="43.68" lengthAdjust="spacingAndGlyphs">{</tspan><tspan x="1281.74" y="1616.30" font-size="80.92" textLength="36.71" lengthAdjust="spacingAndGlyphs">1</tspan><tspan x="1319.58" y="1615.84" font-size="80.39" textLength="23.00" lengthAdjust="spacingAndGlyphs" font-style="italic">,</tspan><tspan x="1348.12" y="1616.19" font-size="80.75" textLength="41.13" lengthAdjust="spacingAndGlyphs">5</tspan><tspan x="1388.09" y="1622.62" font-size="94.67" textLength="42.72" lengthAdjust="spacingAndGlyphs">}</tspan><tspan x="1427.64" y="1615.84" font-size="80.39" textLength="24.00" lengthAdjust="spacingAndGlyphs" font-style="italic">,</tspan><tspan x="1459.29" y="1622.62" font-size="94.67" textLength="44.32" lengthAdjust="spacingAndGlyphs">{</tspan><tspan x="1500.37" y="1617.00" font-size="81.36" textLength="41.50" lengthAdjust="spacingAndGlyphs">2</tspan><tspan x="1537.24" y="1615.84" font-size="80.39" textLength="24.00" lengthAdjust="spacingAndGlyphs" font-style="italic">,</tspan><tspan x="1570.85" y="1616.71" font-size="81.54" textLength="36.13" lengthAdjust="spacingAndGlyphs">4</tspan><tspan x="1606.39" y="1622.62" font-size="94.67" textLength="44.32" lengthAdjust="spacingAndGlyphs">}</tspan><tspan x="1647.29" y="1622.62" font-size="94.67" textLength="44.32" lengthAdjust="spacingAndGlyphs">}</tspan><tspan x="1689.65" y="1615.48" font-size="74.78" textLength="19.79" lengthAdjust="spacingAndGlyphs">.</tspan></text>
<text class="caption" fill="#000" font-family="'Liberation Serif', 'Times New Roman', serif" aria-label="(b) B ∈ S5 = {{1,2},{4,5}}."><tspan x="769.51" y="3298.39" font-size="77.67" textLength="23.64" lengthAdjust="spacingAndGlyphs">(</tspan><tspan x="792.69" y="3299.12" font-size="77.71" textLength="44.94" lengthAdjust="spacingAndGlyphs" font-weight="bold">b</tspan><tspan x="837.97" y="3298.39" font-size="77.67" textLength="23.69" lengthAdjust="spacingAndGlyphs">)</tspan> <tspan x="886.22" y="3299.30" font-size="80.00" textLength="41.60" lengthAdjust="spacingAndGlyphs" font-style="italic">B</tspan> <tspan x="954.51" y="3301.38" font-size="62.22" textLength="48.03" lengthAdjust="spacingAndGlyphs" font-family="'DejaVu Sans', sans-serif" stroke="#fff" stroke-width="1.50">∈</tspan> <tspan x="1029.05" y="3299.48" font-size="81.79" textLength="37.37" lengthAdjust="spacingAndGlyphs" font-style="italic">S</tspan><tspan x="1065.33" y="3313.29" font-size="60.60" textLength="33.88" lengthAdjust="spacingAndGlyphs">5</tspan> <tspan x="1122.88" y="3304.86" font-size="76.40" textLength="62.22" lengthAdjust="spacingAndGlyphs">=</tspan> <tspan x="1204.88" y="3305.62" font-size="94.67" textLength="43.84" lengthAdjust="spacingAndGlyphs">{</tspan><tspan x="1246.21" y="3305.62" font-size="94.67" textLength="43.68" lengthAdjust="spacingAndGlyphs">{</tspan><tspan x="1285.84" y="3299.30" font-size="80.92" textLength="36.71" lengthAdjust="spacingAndGlyphs">1</tspan><tspan x="1323.68" y="3298.84" font-size="80.39" textLength="23.00" lengthAdjust="spacingAndGlyphs" font-style="italic">,</tspan><tspan x="1353.27" y="3300.00" font-size="81.36" textLength="41.50" lengthAdjust="spacingAndGlyphs">2</tspan><tspan x="1392.19" y="3305.62" font-size="94.67" textLength="42.72" lengthAdjust="spacingAndGlyphs">}</tspan><tspan x="1431.74" y="3298.84" font-size="80.39" textLength="24.00" lengthAdjust="spacingAndGlyphs" font-style="italic">,</tspan><tspan x="1463.39" y="3305.62" font-size="94.67" textLength="44.32" lengthAdjust="spacingAndGlyphs">{</tspan><tspan x="1506.55" y="3299.71" font-size="81.54" textLength="36.13" lengthAdjust="spacingAndGlyphs">4</tspan><tspan x="1541.34" y="3298.84" font-size="80.39" textLength="24.00" lengthAdjust="spacingAndGlyphs" font-style="italic">,</tspan><tspan x="1571.81" y="3299.19" font-size="80.75" textLength="41.13" lengthAdjust="spacingAndGlyphs">5</tspan><tspan x="1610.49" y="3305.62" font-size="94.67" textLength="44.32" lengthAdjust="spacingAndGlyphs">}</tspan><tspan x="1651.39" y="3305.62" font-size="94.67" textLength="44.32" lengthAdjust="spacingAndGlyphs">}</tspan><tspan x="1693.75" y="3298.48" font-size="74.78" textLength="19.79" lengthAdjust="spacingAndGlyphs">.</tspan></text>
<text class="caption" fill="#000" font-family="'Liberation Serif', 'Times New Roman', serif" aria-label="(c) B ∈ S6 = {{1,4},{2,5}}."><tspan x="775.71" y="4949.39" font-size="77.67" textLength="23.64" lengthAdjust="spacingAndGlyphs">(</tspan><tspan x="799.55" y="4950.14" font-size="76.25" textLength="32.40" lengthAdjust="spacingAndGlyphs" font-weight="bold">c</tspan><tspan x="831.77" y="4949.39" font-size="77.67" textLength="23.69" lengthAdjust="spacingAndGlyphs">)</tspan> <tspan x="880.02" y="4950.30" font-size="80.00" textLength="41.60" lengthAdjust="spacingAndGlyphs" font-style="italic">B</tspan> <tspan x="948.31" y="4952.38" font-size="62.22" textLength="48.03" lengthAdjust="spacingAndGlyphs" font-family="'DejaVu Sans', sans-serif" stroke="#fff" stroke-width="1.50">∈</tspan> <tspan x="1022.85" y="4950.48" font-size="81.79" textLength="37.37" lengthAdjust="spacingAndGlyphs" font-style="italic">S</tspan><tspan x="1060.33" y="4964.30" font-size="60.15" textLength="31.88" lengthAdjust="spacingAndGlyphs">6</tspan> <tspan x="1116.68" y="4955.86" font-size="76.40" textLength="62.22" lengthAdjust="spacingAndGlyphs">=</tspan> <tspan x="1198.68" y="4956.62" font-size="94.67" textLength="43.84" lengthAdjust="spacingAndGlyphs">{</tspan><tspan x="1240.01" y="4956.62" font-size="94.67" textLength="43.68" lengthAdjust="spacingAndGlyphs">{</tspan><tspan x="1279.64" y="4950.30" font-size="80.92" textLength="36.71" lengthAdjust="spacingAndGlyphs">1</tspan><tspan x="1317.48" y="4949.84" font-size="80.39" textLength="23.00" lengthAdjust="spacingAndGlyphs" font-style="italic">,</tspan><tspan x="1349.15" y="4950.71" font-size="81.54" textLength="36.13" lengthAdjust="spacingAndGlyphs">4</tspan><tspan x="1385.99" y="4956.62" font-size="94.67" textLength="42.72" lengthAdjust="spacingAndGlyphs">}</tspan><tspan x="1425.54" y="4949.84" font-size="80.39" textLength="24.00" lengthAdjust="spacingAndGlyphs" font-style="italic">,</tspan><tspan x="1457.19" y="4956.62" font-size="94.67" textLength="44.32" lengthAdjust="spacingAndGlyphs">{</tspan><tspan x="1498.27" y="4951.00" font-size="81.36" textLength="41.50" lengthAdjust="spacingAndGlyphs">2</tspan><tspan x="1535.14" y="4949.84" font-size="80.39" textLength="24.00" lengthAdjust="spacingAndGlyphs" font-style="italic">,</tspan><tspan x="1565.62" y="4950.19" font-size="80.75" textLength="41.13" lengthAdjust="spacingAndGlyphs">5</tspan><tspan x="1604.29" y="4956.62" font-size="94.67" textLength="44.32" lengthAdjust="spacingAndGlyphs">}</tspan><tspan x="1645.19" y="4956.62" font-size="94.67" textLength="44.32" lengthAdjust="spacingAndGlyphs">}</tspan><tspan x="1687.55" y="4949.48" font-size="74.78" textLength="19.79" lengthAdjust="spacingAndGlyphs">.</tspan></text>
</svg>
</body></html>
